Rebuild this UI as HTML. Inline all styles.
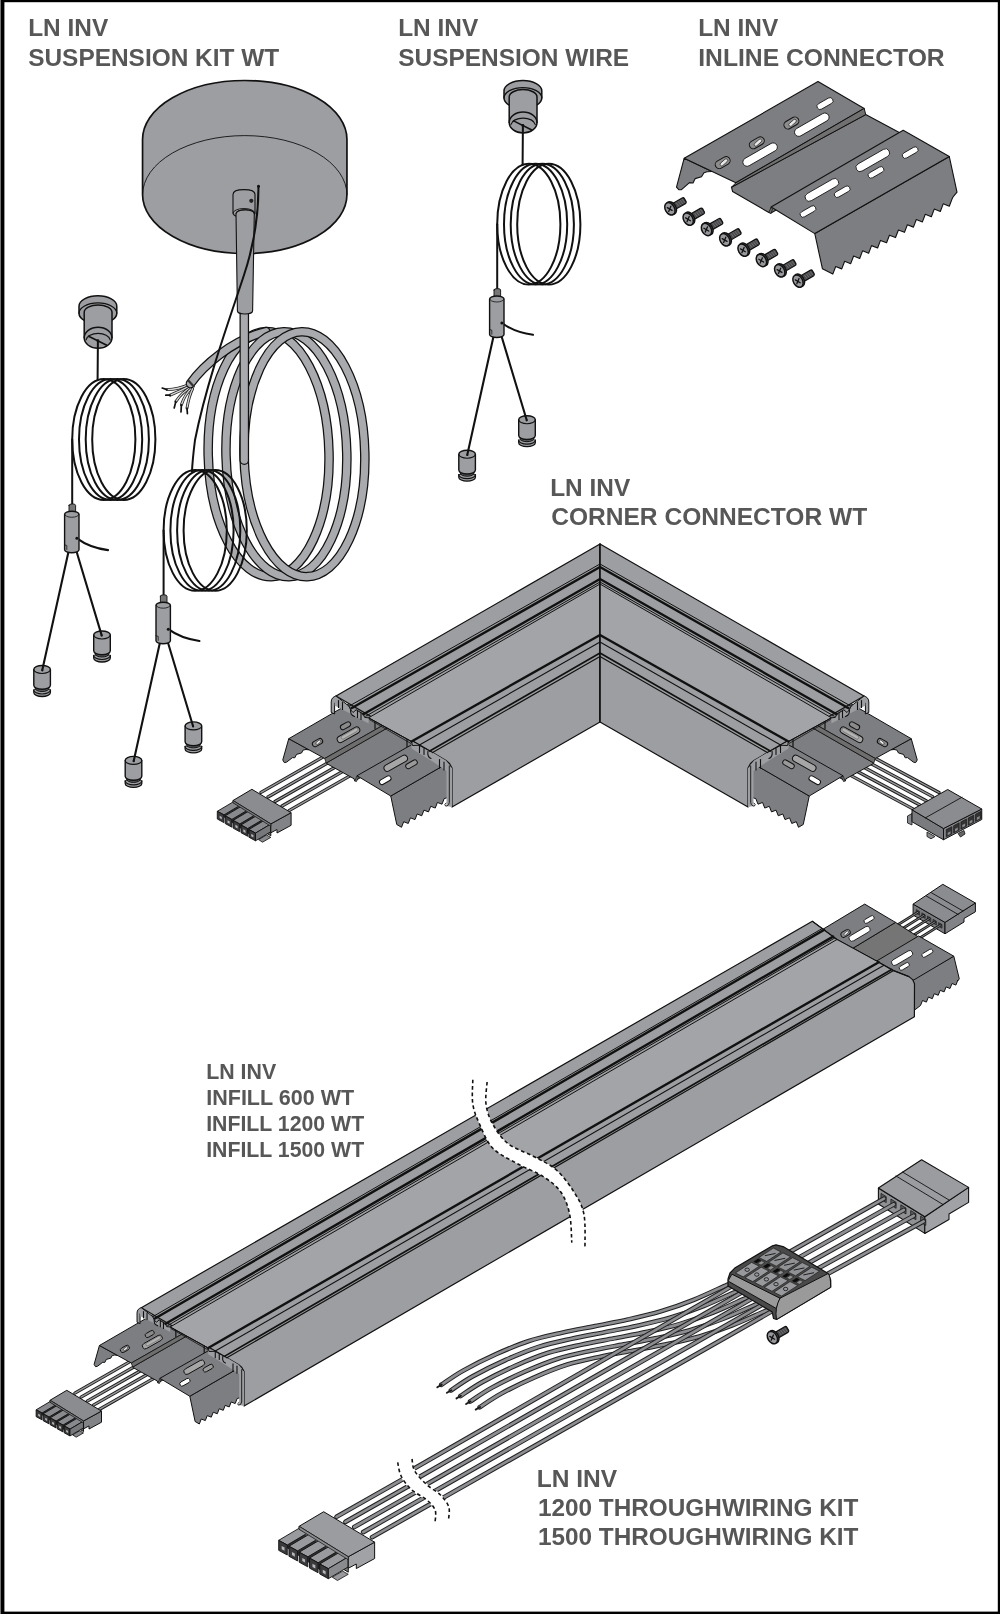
<!DOCTYPE html>
<html><head><meta charset="utf-8"><title>LN INV accessories</title>
<style>
html,body{margin:0;padding:0;background:#fff;}
body{width:1000px;height:1614px;overflow:hidden;font-family:"Liberation Sans",sans-serif;}
svg{display:block;will-change:transform;}
g.ns *{vector-effect:non-scaling-stroke;}
text{font-family:"Liberation Sans",sans-serif;font-weight:bold;fill:#575757;}
</style></head><body>
<svg width="1000" height="1614" viewBox="0 0 1000 1614">
<!-- frame -->
<rect x="0" y="0" width="1000" height="1614" fill="#fff"/>
<rect x="0" y="0" width="1000" height="2.2" fill="#000"/>
<rect x="0" y="1611.6" width="1000" height="2.4" fill="#000"/>
<rect x="0" y="0" width="1" height="1614" fill="#777"/>
<rect x="1" y="0" width="3.4" height="1614" fill="#000"/>
<rect x="997.8" y="0" width="2.2" height="1614" fill="#000"/>
<!-- canopy -->
<path d="M142.55,139.5 A102.2,59 0 0 1 346.95,139.5 L346.95,194.6 A102.2,59 0 0 1 142.55,194.6 Z" fill="#9d9ea1" stroke="#111" stroke-width="1.7" stroke-linejoin="round" stroke-linecap="round" />
<path d="M142.55,194.6 A102.2,59 0 0 1 346.95,194.6" fill="none" stroke="#111" stroke-width="0.9" stroke-linejoin="round" stroke-linecap="round" />
<g transform="rotate(-1.3 268.6 454.2)"><path d="M208.2,454.2 A60.4,122.5 0 1 1 329,454.2 A60.4,122.5 0 1 1 208.2,454.2" fill="none" stroke="#111" stroke-width="9.6" stroke-linejoin="round" stroke-linecap="round" stroke-linecap="butt"/><path d="M208.2,454.2 A60.4,122.5 0 1 1 329,454.2 A60.4,122.5 0 1 1 208.2,454.2" fill="none" stroke="#a9aaad" stroke-width="7.1" stroke-linejoin="round" stroke-linecap="round" stroke-linecap="butt"/></g>
<path d="M189.4,384.4 Q178,389.5 167,389.6" fill="none" stroke="#222" stroke-width="2.9" stroke-linejoin="round" stroke-linecap="round" />
<path d="M189.4,384.4 Q178,389.5 167,389.6" fill="none" stroke="#d6d6d8" stroke-width="1.3" stroke-linejoin="round" stroke-linecap="round" stroke-linecap="butt"/>
<line x1="167" y1="389.6" x2="162.2" y2="388" stroke="#111" stroke-width="1.7" stroke-linecap="round" />
<path d="M190.2,385.8 Q180,391 170.2,395.2" fill="none" stroke="#222" stroke-width="2.9" stroke-linejoin="round" stroke-linecap="round" />
<path d="M190.2,385.8 Q180,391 170.2,395.2" fill="none" stroke="#d6d6d8" stroke-width="1.3" stroke-linejoin="round" stroke-linecap="round" stroke-linecap="butt"/>
<line x1="170.2" y1="395.2" x2="165.8" y2="395.2" stroke="#111" stroke-width="1.7" stroke-linecap="round" />
<path d="M191,387.2 Q182,392 175.8,401.6" fill="none" stroke="#222" stroke-width="2.9" stroke-linejoin="round" stroke-linecap="round" />
<path d="M191,387.2 Q182,392 175.8,401.6" fill="none" stroke="#d6d6d8" stroke-width="1.3" stroke-linejoin="round" stroke-linecap="round" stroke-linecap="butt"/>
<line x1="175.8" y1="401.6" x2="174.2" y2="408" stroke="#111" stroke-width="1.7" stroke-linecap="round" />
<path d="M191.8,388 Q185,394 181.4,404.8" fill="none" stroke="#222" stroke-width="2.9" stroke-linejoin="round" stroke-linecap="round" />
<path d="M191.8,388 Q185,394 181.4,404.8" fill="none" stroke="#d6d6d8" stroke-width="1.3" stroke-linejoin="round" stroke-linecap="round" stroke-linecap="butt"/>
<line x1="181.4" y1="404.8" x2="181" y2="412" stroke="#111" stroke-width="1.7" stroke-linecap="round" />
<path d="M192.6,388.8 Q189,396 187,408" fill="none" stroke="#222" stroke-width="2.9" stroke-linejoin="round" stroke-linecap="round" />
<path d="M192.6,388.8 Q189,396 187,408" fill="none" stroke="#d6d6d8" stroke-width="1.3" stroke-linejoin="round" stroke-linecap="round" stroke-linecap="butt"/>
<line x1="187" y1="408" x2="187.4" y2="413.6" stroke="#111" stroke-width="1.7" stroke-linecap="round" />
<path d="M190.5,383.5 C203,366 232,340 266,331.6" fill="none" stroke="#111" stroke-width="9.6" stroke-linejoin="round" stroke-linecap="round" stroke-linecap="butt"/><path d="M190.5,383.5 C203,366 232,340 266,331.6" fill="none" stroke="#a9aaad" stroke-width="7.1" stroke-linejoin="round" stroke-linecap="round" stroke-linecap="butt"/>
<g transform="rotate(-1.3 286.4 454.2)"><path d="M226,454.2 A60.4,122.5 0 1 1 346.8,454.2 A60.4,122.5 0 1 1 226,454.2" fill="none" stroke="#111" stroke-width="9.6" stroke-linejoin="round" stroke-linecap="round" stroke-linecap="butt"/><path d="M226,454.2 A60.4,122.5 0 1 1 346.8,454.2 A60.4,122.5 0 1 1 226,454.2" fill="none" stroke="#a9aaad" stroke-width="7.1" stroke-linejoin="round" stroke-linecap="round" stroke-linecap="butt"/></g>
<g transform="rotate(-1.3 304.4 454.2)"><path d="M244,454.2 A60.4,122.5 0 1 1 364.8,454.2 A60.4,122.5 0 1 1 244,454.2" fill="none" stroke="#111" stroke-width="9.6" stroke-linejoin="round" stroke-linecap="round" stroke-linecap="butt"/><path d="M244,454.2 A60.4,122.5 0 1 1 364.8,454.2 A60.4,122.5 0 1 1 244,454.2" fill="none" stroke="#a9aaad" stroke-width="7.1" stroke-linejoin="round" stroke-linecap="round" stroke-linecap="butt"/></g>
<path d="M244.3,311 L244.3,460.2" fill="none" stroke="#111" stroke-width="9.6" stroke-linejoin="round" stroke-linecap="round" stroke-linecap="butt"/><path d="M244.3,311 L244.3,460.2" fill="none" stroke="#a9aaad" stroke-width="7.1" stroke-linejoin="round" stroke-linecap="round" stroke-linecap="butt"/>
<path d="M233,194.5 L233,213 A11,4.5 0 0 0 255,213 L255,194.5 Q255,189.6 244,189.6 Q233,189.6 233,194.5 Z" fill="#9d9ea1" stroke="#111" stroke-width="1.1" stroke-linejoin="round" stroke-linecap="round" />
<path d="M233,213 A11,4.5 0 0 1 255,213" fill="none" stroke="#111" stroke-width="0.9" stroke-linejoin="round" stroke-linecap="round" />
<path d="M236,213.5 L237.4,311 A7.6,3 0 0 0 252.6,311 L254.3,213.5 A9.1,3.8 0 0 0 236,213.5 Z" fill="#9d9ea1" stroke="#111" stroke-width="1.1" stroke-linejoin="round" stroke-linecap="round" />
<path d="M236,213.5 A9.1,3.6 0 0 1 254.3,213.5" fill="none" stroke="#111" stroke-width="0.9" stroke-linejoin="round" stroke-linecap="round" />
<circle cx="251.3" cy="200.8" r="2.1" fill="#222"/>
<circle cx="258.5" cy="186.3" r="1.5" fill="#111"/>
<path d="M258.5,186.5 C258.5,215 254,245 244,275 C232,312 207,380 195,440 C193,456 192.3,463 192,471.5" fill="none" stroke="#111" stroke-width="2.0" stroke-linejoin="round" stroke-linecap="round" />
<line x1="188.6" y1="380.8" x2="193.8" y2="386.4" stroke="#333" stroke-width="2.2" stroke-linecap="round" />
<!-- susp -->
<defs><g id="grip"><ellipse cx="528.8" cy="224.2" rx="31.6" ry="60.4" fill="none" stroke="#111" stroke-width="2.0"/>
<ellipse cx="535.6" cy="224.2" rx="31.6" ry="60.4" fill="none" stroke="#111" stroke-width="2.0"/>
<ellipse cx="542.3" cy="224.2" rx="31.6" ry="60.4" fill="none" stroke="#111" stroke-width="2.0"/>
<ellipse cx="548.8" cy="224.2" rx="31.6" ry="60.4" fill="none" stroke="#111" stroke-width="2.0"/>
<path d="M497.2,224.2 L497.2,289" fill="none" stroke="#111" stroke-width="2.0" stroke-linejoin="round" stroke-linecap="round" />
<path d="M458.8,474.7 L458.8,477.2 A8.3,4.0 0 0 0 475.4,477.2 L475.4,474.7 Z" fill="#9d9ea1" stroke="#111" stroke-width="1.3" stroke-linejoin="round" stroke-linecap="round" />
<path d="M458.8,474.7 A8.3,4.0 0 0 0 475.4,474.7" fill="#9d9ea1" stroke="#111" stroke-width="1.2" stroke-linejoin="round" stroke-linecap="round" />
<path d="M460.1,469.2 L460.1,472.8 A7.000000000000001,3.4 0 0 0 474.1,472.8 L474.1,469.2 Z" fill="#5e5f62" stroke="#111" stroke-width="1.0" stroke-linejoin="round" stroke-linecap="round" />
<path d="M458.8,454.2 L458.8,470 A8.3,4.0 0 0 0 475.4,470 L475.4,454.2 A8.3,4.0 0 0 0 458.8,454.2 Z" fill="#9d9ea1" stroke="#111" stroke-width="1.4" stroke-linejoin="round" stroke-linecap="round" />
<path d="M458.8,454.2 A8.3,4.0 0 0 0 475.4,454.2" fill="none" stroke="#111" stroke-width="1.1" stroke-linejoin="round" stroke-linecap="round" />
<path d="M518.7,440.2 L518.7,442.7 A8.3,4.0 0 0 0 535.3,442.7 L535.3,440.2 Z" fill="#9d9ea1" stroke="#111" stroke-width="1.3" stroke-linejoin="round" stroke-linecap="round" />
<path d="M518.7,440.2 A8.3,4.0 0 0 0 535.3,440.2" fill="#9d9ea1" stroke="#111" stroke-width="1.2" stroke-linejoin="round" stroke-linecap="round" />
<path d="M520,434.7 L520,438.3 A7.000000000000001,3.4 0 0 0 534,438.3 L534,434.7 Z" fill="#5e5f62" stroke="#111" stroke-width="1.0" stroke-linejoin="round" stroke-linecap="round" />
<path d="M518.7,419.7 L518.7,435.5 A8.3,4.0 0 0 0 535.3,435.5 L535.3,419.7 A8.3,4.0 0 0 0 518.7,419.7 Z" fill="#9d9ea1" stroke="#111" stroke-width="1.4" stroke-linejoin="round" stroke-linecap="round" />
<path d="M518.7,419.7 A8.3,4.0 0 0 0 535.3,419.7" fill="none" stroke="#111" stroke-width="1.1" stroke-linejoin="round" stroke-linecap="round" />
<circle cx="467.3" cy="455" r="1.1" fill="#111"/>
<circle cx="526.7" cy="420.3" r="1.1" fill="#111"/>
<line x1="493.6" y1="336" x2="467.3" y2="454.8" stroke="#111" stroke-width="2.1" stroke-linecap="round" />
<line x1="501.6" y1="336.5" x2="526.6" y2="419.8" stroke="#111" stroke-width="2.1" stroke-linecap="round" />
<path d="M502,323 C510,329 520,333 533,334.8" fill="none" stroke="#111" stroke-width="2.1" stroke-linejoin="round" stroke-linecap="round" />
<path d="M494,290 L494,298 L500.6,298 L500.6,290 A3.3,1.4 0 0 0 494,290 Z" fill="#777" stroke="#111" stroke-width="0.9" stroke-linejoin="round" stroke-linecap="round" />
<path d="M489.6,299 L489.6,334.5 A7.2,3 0 0 0 504,334.5 L504,299 A7.2,3 0 0 0 489.6,299 Z" fill="#9d9ea1" stroke="#111" stroke-width="1.4" stroke-linejoin="round" stroke-linecap="round" />
<path d="M489.6,299 A7.2,3 0 0 0 504,299" fill="none" stroke="#111" stroke-width="0.8" stroke-linejoin="round" stroke-linecap="round" />
<path d="M489.6,329.5 L491.8,330.2 L491.8,334.2" fill="none" stroke="#111" stroke-width="0.8" stroke-linejoin="round" stroke-linecap="round" />
<circle cx="501.9" cy="323" r="1.5" fill="#111"/></g><g id="ccap"><path d="M504,90.9 L504,98 A18.9,10.4 0 0 0 541.8,98 L541.8,90.9 A18.9,10.4 0 0 0 504,90.9 Z" fill="#9d9ea1" stroke="#111" stroke-width="1.5" stroke-linejoin="round" stroke-linecap="round" />
<path d="M504,98 A18.9,10.4 0 0 1 541.8,98" fill="none" stroke="#111" stroke-width="1.2" stroke-linejoin="round" stroke-linecap="round" />
<path d="M509.2,97 L509.2,122.5 A13.9,10.5 0 0 0 537,122.5 L537,97 A13.9,7.4 0 0 0 509.2,97 Z" fill="#9d9ea1" stroke="#111" stroke-width="1.5" stroke-linejoin="round" stroke-linecap="round" />
<path d="M509.2,122.5 A13.9,10.5 0 0 1 537,122.5" fill="none" stroke="#111" stroke-width="1.4" stroke-linejoin="round" stroke-linecap="round" />
<path d="M511,124.5 A12.2,7.4 0 0 1 535.2,124.5" fill="none" stroke="#111" stroke-width="1.2" stroke-linejoin="round" stroke-linecap="round" />
<line x1="513.6" y1="120.9" x2="531.8" y2="130" stroke="#111" stroke-width="1.6" stroke-linecap="round" />
<circle cx="522.9" cy="125.4" r="1.4" fill="#111"/>
<path d="M522.9,125.5 L522.6,165" fill="none" stroke="#111" stroke-width="2.0" stroke-linejoin="round" stroke-linecap="round" /></g></defs>
<use href="#grip"/><use href="#ccap"/>
<use href="#grip" transform="translate(-425,215.3)"/><use href="#ccap" transform="translate(-425,215.3)"/>
<use href="#grip" transform="translate(-333.6,306.2)"/>
<!-- inline -->
<polygon points="684.2,158.2 676.5,187.2 679,189.8 681.5,189.6 689.5,182.6 693,183 695.2,178.6 701.5,176.8 704,172.8 707,171.8 712,171.5" fill="#7d7e81" stroke="#111" stroke-width="1.1" stroke-linejoin="round" />
<polygon points="814.8,233.6 949.3,156.6 957,192.2 953,197 952.18,198.64 949.28,206.24 943.22,203.86 940.32,211.46 934.26,209.08 931.36,216.68 925.3,214.3 922.4,221.9 916.34,219.52 913.44,227.12 907.38,224.74 904.48,232.34 898.42,229.96 895.52,237.56 889.46,235.18 886.56,242.78 880.5,240.4 877.6,248 871.54,245.62 868.64,253.22 862.58,250.84 859.68,258.44 853.62,256.06 850.72,263.66 844.66,261.28 841.76,268.88 835.7,266.5 832.8,274.1 822.4,268.7" fill="#7d7e81" stroke="#111" stroke-width="1.1" stroke-linejoin="round" />
<polygon points="731.5,187.2 865.7,114.6 903,134.5 771,213 768.9,212.5 732.6,191.6" fill="#7d7e81" stroke="#111" stroke-width="1.1" stroke-linejoin="round" />
<polygon points="684.2,158.2 818,81.6 864.2,108.4 735.9,182.8" fill="#7d7e81" stroke="#111" stroke-width="1.1" stroke-linejoin="round" />
<polygon points="735.9,182.8 864.2,108.4 865.7,114.6 731.5,187.2" fill="#707070" stroke="#111" stroke-width="1.0" stroke-linejoin="round" />
<polygon points="771.1,207 903.2,130.2 949.3,156.6 814.8,233.6" fill="#7d7e81" stroke="#111" stroke-width="1.1" stroke-linejoin="round" />
<polygon points="771.1,207 768.9,212.5 771,213.5 772.5,209" fill="#707070" stroke="#111" stroke-width="0.8" stroke-linejoin="round" />
<rect x="740.85" y="150.4" width="38.5" height="8.4" rx="4.2" ry="4.2" transform="rotate(-29.8 760.1 154.6)" fill="#fff" stroke="#111" stroke-width="0.8"/>
<rect x="792.55" y="120.5" width="38.5" height="8.4" rx="4.2" ry="4.2" transform="rotate(-29.8 811.8 124.7)" fill="#fff" stroke="#111" stroke-width="0.8"/>
<rect x="816.2" y="100.5" width="17.6" height="6.2" rx="3.1" ry="3.1" transform="rotate(-29.8 825 103.6)" fill="#fff" stroke="#111" stroke-width="0.8"/>
<rect x="714.7" y="158.6" width="16" height="8" rx="4" ry="4" transform="rotate(-29.8 722.7 162.6)" fill="#8c8c8c" stroke="#111" stroke-width="1.0"/>
<rect x="719.4" y="160.8" width="9" height="3.2" rx="1.6" ry="1.6" transform="rotate(-41.8 723.9 162.4)" fill="#e8e8e8" stroke="#111" stroke-width="0.6"/>
<rect x="748.8" y="138.8" width="16" height="8" rx="4" ry="4" transform="rotate(-29.8 756.8 142.8)" fill="#8c8c8c" stroke="#111" stroke-width="1.0"/>
<rect x="753.5" y="141" width="9" height="3.2" rx="1.6" ry="1.6" transform="rotate(-41.8 758 142.6)" fill="#e8e8e8" stroke="#111" stroke-width="0.6"/>
<rect x="783.4" y="119" width="16" height="8" rx="4" ry="4" transform="rotate(-29.8 791.4 123)" fill="#8c8c8c" stroke="#111" stroke-width="1.0"/>
<rect x="788.1" y="121.2" width="9" height="3.2" rx="1.6" ry="1.6" transform="rotate(-41.8 792.6 122.8)" fill="#e8e8e8" stroke="#111" stroke-width="0.6"/>
<rect x="803.15" y="185.8" width="37.5" height="8.2" rx="4.1" ry="4.1" transform="rotate(-29.8 821.9 189.9)" fill="#fff" stroke="#111" stroke-width="0.8"/>
<rect x="854.05" y="156.1" width="37.5" height="8.2" rx="4.1" ry="4.1" transform="rotate(-29.8 872.8 160.2)" fill="#fff" stroke="#111" stroke-width="0.8"/>
<rect x="799.4" y="208.6" width="17.2" height="5.8" rx="2.9" ry="2.9" transform="rotate(-29.8 808 211.5)" fill="#fff" stroke="#111" stroke-width="0.8"/>
<rect x="833.6" y="188.8" width="17.2" height="5.8" rx="2.9" ry="2.9" transform="rotate(-29.8 842.2 191.7)" fill="#fff" stroke="#111" stroke-width="0.8"/>
<rect x="867.4" y="169.5" width="17.2" height="5.8" rx="2.9" ry="2.9" transform="rotate(-29.8 876 172.4)" fill="#fff" stroke="#111" stroke-width="0.8"/>
<rect x="901.6" y="149.7" width="17.2" height="5.8" rx="2.9" ry="2.9" transform="rotate(-29.8 910.2 152.6)" fill="#fff" stroke="#111" stroke-width="0.8"/>
<g transform="translate(669.9 208.8) rotate(-30) scale(1.0)">
<rect x="2" y="-3.2" width="15.6" height="6.4" rx="1.6" fill="#4a4a4c" stroke="#111" stroke-width="1.3"/>
<line x1="6.2" y1="-2.6" x2="6.8" y2="2.6" stroke="#77787b" stroke-width="0.7"/>
<line x1="8.5" y1="-2.6" x2="9.1" y2="2.6" stroke="#77787b" stroke-width="0.7"/>
<line x1="10.8" y1="-2.6" x2="11.4" y2="2.6" stroke="#77787b" stroke-width="0.7"/>
<line x1="13.1" y1="-2.6" x2="13.7" y2="2.6" stroke="#77787b" stroke-width="0.7"/>
<line x1="15.4" y1="-2.6" x2="16" y2="2.6" stroke="#77787b" stroke-width="0.7"/>
<ellipse cx="1.6" cy="0" rx="4.6" ry="6.7" fill="#7a7b7e" stroke="#111" stroke-width="1.5"/>
<ellipse cx="0" cy="0" rx="4.6" ry="6.6" fill="#98999c" stroke="#111" stroke-width="1.5"/>
</g>
<line x1="667.3" y1="207.6" x2="672.1" y2="210.4" stroke="#111" stroke-width="1.3" stroke-linecap="round" />
<line x1="668.7" y1="211.4" x2="670.9" y2="206.2" stroke="#111" stroke-width="1.3" stroke-linecap="round" />
<g transform="translate(688.2 219.13) rotate(-30) scale(1.0)">
<rect x="2" y="-3.2" width="15.6" height="6.4" rx="1.6" fill="#4a4a4c" stroke="#111" stroke-width="1.3"/>
<line x1="6.2" y1="-2.6" x2="6.8" y2="2.6" stroke="#77787b" stroke-width="0.7"/>
<line x1="8.5" y1="-2.6" x2="9.1" y2="2.6" stroke="#77787b" stroke-width="0.7"/>
<line x1="10.8" y1="-2.6" x2="11.4" y2="2.6" stroke="#77787b" stroke-width="0.7"/>
<line x1="13.1" y1="-2.6" x2="13.7" y2="2.6" stroke="#77787b" stroke-width="0.7"/>
<line x1="15.4" y1="-2.6" x2="16" y2="2.6" stroke="#77787b" stroke-width="0.7"/>
<ellipse cx="1.6" cy="0" rx="4.6" ry="6.7" fill="#7a7b7e" stroke="#111" stroke-width="1.5"/>
<ellipse cx="0" cy="0" rx="4.6" ry="6.6" fill="#98999c" stroke="#111" stroke-width="1.5"/>
</g>
<line x1="685.6" y1="217.93" x2="690.4" y2="220.73" stroke="#111" stroke-width="1.3" stroke-linecap="round" />
<line x1="687" y1="221.73" x2="689.2" y2="216.53" stroke="#111" stroke-width="1.3" stroke-linecap="round" />
<g transform="translate(706.5 229.46) rotate(-30) scale(1.0)">
<rect x="2" y="-3.2" width="15.6" height="6.4" rx="1.6" fill="#4a4a4c" stroke="#111" stroke-width="1.3"/>
<line x1="6.2" y1="-2.6" x2="6.8" y2="2.6" stroke="#77787b" stroke-width="0.7"/>
<line x1="8.5" y1="-2.6" x2="9.1" y2="2.6" stroke="#77787b" stroke-width="0.7"/>
<line x1="10.8" y1="-2.6" x2="11.4" y2="2.6" stroke="#77787b" stroke-width="0.7"/>
<line x1="13.1" y1="-2.6" x2="13.7" y2="2.6" stroke="#77787b" stroke-width="0.7"/>
<line x1="15.4" y1="-2.6" x2="16" y2="2.6" stroke="#77787b" stroke-width="0.7"/>
<ellipse cx="1.6" cy="0" rx="4.6" ry="6.7" fill="#7a7b7e" stroke="#111" stroke-width="1.5"/>
<ellipse cx="0" cy="0" rx="4.6" ry="6.6" fill="#98999c" stroke="#111" stroke-width="1.5"/>
</g>
<line x1="703.9" y1="228.26" x2="708.7" y2="231.06" stroke="#111" stroke-width="1.3" stroke-linecap="round" />
<line x1="705.3" y1="232.06" x2="707.5" y2="226.86" stroke="#111" stroke-width="1.3" stroke-linecap="round" />
<g transform="translate(724.8 239.79) rotate(-30) scale(1.0)">
<rect x="2" y="-3.2" width="15.6" height="6.4" rx="1.6" fill="#4a4a4c" stroke="#111" stroke-width="1.3"/>
<line x1="6.2" y1="-2.6" x2="6.8" y2="2.6" stroke="#77787b" stroke-width="0.7"/>
<line x1="8.5" y1="-2.6" x2="9.1" y2="2.6" stroke="#77787b" stroke-width="0.7"/>
<line x1="10.8" y1="-2.6" x2="11.4" y2="2.6" stroke="#77787b" stroke-width="0.7"/>
<line x1="13.1" y1="-2.6" x2="13.7" y2="2.6" stroke="#77787b" stroke-width="0.7"/>
<line x1="15.4" y1="-2.6" x2="16" y2="2.6" stroke="#77787b" stroke-width="0.7"/>
<ellipse cx="1.6" cy="0" rx="4.6" ry="6.7" fill="#7a7b7e" stroke="#111" stroke-width="1.5"/>
<ellipse cx="0" cy="0" rx="4.6" ry="6.6" fill="#98999c" stroke="#111" stroke-width="1.5"/>
</g>
<line x1="722.2" y1="238.59" x2="727" y2="241.39" stroke="#111" stroke-width="1.3" stroke-linecap="round" />
<line x1="723.6" y1="242.39" x2="725.8" y2="237.19" stroke="#111" stroke-width="1.3" stroke-linecap="round" />
<g transform="translate(743.1 250.12) rotate(-30) scale(1.0)">
<rect x="2" y="-3.2" width="15.6" height="6.4" rx="1.6" fill="#4a4a4c" stroke="#111" stroke-width="1.3"/>
<line x1="6.2" y1="-2.6" x2="6.8" y2="2.6" stroke="#77787b" stroke-width="0.7"/>
<line x1="8.5" y1="-2.6" x2="9.1" y2="2.6" stroke="#77787b" stroke-width="0.7"/>
<line x1="10.8" y1="-2.6" x2="11.4" y2="2.6" stroke="#77787b" stroke-width="0.7"/>
<line x1="13.1" y1="-2.6" x2="13.7" y2="2.6" stroke="#77787b" stroke-width="0.7"/>
<line x1="15.4" y1="-2.6" x2="16" y2="2.6" stroke="#77787b" stroke-width="0.7"/>
<ellipse cx="1.6" cy="0" rx="4.6" ry="6.7" fill="#7a7b7e" stroke="#111" stroke-width="1.5"/>
<ellipse cx="0" cy="0" rx="4.6" ry="6.6" fill="#98999c" stroke="#111" stroke-width="1.5"/>
</g>
<line x1="740.5" y1="248.92" x2="745.3" y2="251.72" stroke="#111" stroke-width="1.3" stroke-linecap="round" />
<line x1="741.9" y1="252.72" x2="744.1" y2="247.52" stroke="#111" stroke-width="1.3" stroke-linecap="round" />
<g transform="translate(761.4 260.45) rotate(-30) scale(1.0)">
<rect x="2" y="-3.2" width="15.6" height="6.4" rx="1.6" fill="#4a4a4c" stroke="#111" stroke-width="1.3"/>
<line x1="6.2" y1="-2.6" x2="6.8" y2="2.6" stroke="#77787b" stroke-width="0.7"/>
<line x1="8.5" y1="-2.6" x2="9.1" y2="2.6" stroke="#77787b" stroke-width="0.7"/>
<line x1="10.8" y1="-2.6" x2="11.4" y2="2.6" stroke="#77787b" stroke-width="0.7"/>
<line x1="13.1" y1="-2.6" x2="13.7" y2="2.6" stroke="#77787b" stroke-width="0.7"/>
<line x1="15.4" y1="-2.6" x2="16" y2="2.6" stroke="#77787b" stroke-width="0.7"/>
<ellipse cx="1.6" cy="0" rx="4.6" ry="6.7" fill="#7a7b7e" stroke="#111" stroke-width="1.5"/>
<ellipse cx="0" cy="0" rx="4.6" ry="6.6" fill="#98999c" stroke="#111" stroke-width="1.5"/>
</g>
<line x1="758.8" y1="259.25" x2="763.6" y2="262.05" stroke="#111" stroke-width="1.3" stroke-linecap="round" />
<line x1="760.2" y1="263.05" x2="762.4" y2="257.85" stroke="#111" stroke-width="1.3" stroke-linecap="round" />
<g transform="translate(779.7 270.78) rotate(-30) scale(1.0)">
<rect x="2" y="-3.2" width="15.6" height="6.4" rx="1.6" fill="#4a4a4c" stroke="#111" stroke-width="1.3"/>
<line x1="6.2" y1="-2.6" x2="6.8" y2="2.6" stroke="#77787b" stroke-width="0.7"/>
<line x1="8.5" y1="-2.6" x2="9.1" y2="2.6" stroke="#77787b" stroke-width="0.7"/>
<line x1="10.8" y1="-2.6" x2="11.4" y2="2.6" stroke="#77787b" stroke-width="0.7"/>
<line x1="13.1" y1="-2.6" x2="13.7" y2="2.6" stroke="#77787b" stroke-width="0.7"/>
<line x1="15.4" y1="-2.6" x2="16" y2="2.6" stroke="#77787b" stroke-width="0.7"/>
<ellipse cx="1.6" cy="0" rx="4.6" ry="6.7" fill="#7a7b7e" stroke="#111" stroke-width="1.5"/>
<ellipse cx="0" cy="0" rx="4.6" ry="6.6" fill="#98999c" stroke="#111" stroke-width="1.5"/>
</g>
<line x1="777.1" y1="269.58" x2="781.9" y2="272.38" stroke="#111" stroke-width="1.3" stroke-linecap="round" />
<line x1="778.5" y1="273.38" x2="780.7" y2="268.18" stroke="#111" stroke-width="1.3" stroke-linecap="round" />
<g transform="translate(798 281.11) rotate(-30) scale(1.0)">
<rect x="2" y="-3.2" width="15.6" height="6.4" rx="1.6" fill="#4a4a4c" stroke="#111" stroke-width="1.3"/>
<line x1="6.2" y1="-2.6" x2="6.8" y2="2.6" stroke="#77787b" stroke-width="0.7"/>
<line x1="8.5" y1="-2.6" x2="9.1" y2="2.6" stroke="#77787b" stroke-width="0.7"/>
<line x1="10.8" y1="-2.6" x2="11.4" y2="2.6" stroke="#77787b" stroke-width="0.7"/>
<line x1="13.1" y1="-2.6" x2="13.7" y2="2.6" stroke="#77787b" stroke-width="0.7"/>
<line x1="15.4" y1="-2.6" x2="16" y2="2.6" stroke="#77787b" stroke-width="0.7"/>
<ellipse cx="1.6" cy="0" rx="4.6" ry="6.7" fill="#7a7b7e" stroke="#111" stroke-width="1.5"/>
<ellipse cx="0" cy="0" rx="4.6" ry="6.6" fill="#98999c" stroke="#111" stroke-width="1.5"/>
</g>
<line x1="795.4" y1="279.91" x2="800.2" y2="282.71" stroke="#111" stroke-width="1.3" stroke-linecap="round" />
<line x1="796.8" y1="283.71" x2="799" y2="278.51" stroke="#111" stroke-width="1.3" stroke-linecap="round" />
<!-- corner -->
<line x1="261" y1="792.4" x2="336" y2="749.65" stroke="#1c1c1c" stroke-width="3.3" stroke-linecap="round" stroke-linecap="butt"/>
<line x1="261" y1="792.4" x2="336" y2="749.65" stroke="#97989b" stroke-width="1.4" stroke-linecap="round" stroke-linecap="butt"/>
<line x1="268" y1="796.95" x2="343" y2="754.2" stroke="#1c1c1c" stroke-width="3.3" stroke-linecap="round" stroke-linecap="butt"/>
<line x1="268" y1="796.95" x2="343" y2="754.2" stroke="#97989b" stroke-width="1.4" stroke-linecap="round" stroke-linecap="butt"/>
<line x1="275" y1="801.5" x2="350" y2="758.75" stroke="#1c1c1c" stroke-width="3.3" stroke-linecap="round" stroke-linecap="butt"/>
<line x1="275" y1="801.5" x2="350" y2="758.75" stroke="#97989b" stroke-width="1.4" stroke-linecap="round" stroke-linecap="butt"/>
<line x1="282" y1="806.05" x2="357" y2="763.3" stroke="#1c1c1c" stroke-width="3.3" stroke-linecap="round" stroke-linecap="butt"/>
<line x1="282" y1="806.05" x2="357" y2="763.3" stroke="#97989b" stroke-width="1.4" stroke-linecap="round" stroke-linecap="butt"/>
<line x1="289" y1="810.6" x2="364" y2="767.85" stroke="#1c1c1c" stroke-width="3.3" stroke-linecap="round" stroke-linecap="butt"/>
<line x1="289" y1="810.6" x2="364" y2="767.85" stroke="#97989b" stroke-width="1.4" stroke-linecap="round" stroke-linecap="butt"/>
<polygon points="233,800.5 270.8,823.9 270.8,835.8 233,812.4" fill="#6c6d70" stroke="#111" stroke-width="1.0" stroke-linejoin="round" />
<polygon points="258.5,839.6 266.5,835 270.8,837.4 262.5,842.2" fill="#88898c" stroke="#111" stroke-width="0.8" stroke-linejoin="round" />
<polygon points="217.8,813.3 232.8,804.3 270.7,826.5 255.5,838.5" fill="#2e2e30" stroke="none" stroke-width="0" stroke-linejoin="round" />
<polygon points="217.3,811.3 232.5,802.3 239.1,805.9 223.9,814.9" fill="#88898c" stroke="#111" stroke-width="0.9" stroke-linejoin="round" />
<polygon points="217.3,811.3 223.9,814.9 223.9,822.6 217.3,819" fill="#3a3a3c" stroke="#111" stroke-width="0.9" stroke-linejoin="round" />
<polygon points="219.6,815.7 221.8,816.9 221.8,819.3 219.6,818.1" fill="#b5b6b9" stroke="none" stroke-width="0" stroke-linejoin="round" />
<polygon points="225.2,815.85 240.4,806.85 247,810.45 231.8,819.45" fill="#88898c" stroke="#111" stroke-width="0.9" stroke-linejoin="round" />
<polygon points="225.2,815.85 231.8,819.45 231.8,827.15 225.2,823.55" fill="#3a3a3c" stroke="#111" stroke-width="0.9" stroke-linejoin="round" />
<polygon points="227.5,820.25 229.7,821.45 229.7,823.85 227.5,822.65" fill="#b5b6b9" stroke="none" stroke-width="0" stroke-linejoin="round" />
<polygon points="233.1,820.4 248.3,811.4 254.9,815 239.7,824" fill="#88898c" stroke="#111" stroke-width="0.9" stroke-linejoin="round" />
<polygon points="233.1,820.4 239.7,824 239.7,831.7 233.1,828.1" fill="#3a3a3c" stroke="#111" stroke-width="0.9" stroke-linejoin="round" />
<polygon points="235.4,824.8 237.6,826 237.6,828.4 235.4,827.2" fill="#b5b6b9" stroke="none" stroke-width="0" stroke-linejoin="round" />
<polygon points="241,824.95 256.2,815.95 262.8,819.55 247.6,828.55" fill="#88898c" stroke="#111" stroke-width="0.9" stroke-linejoin="round" />
<polygon points="241,824.95 247.6,828.55 247.6,836.25 241,832.65" fill="#3a3a3c" stroke="#111" stroke-width="0.9" stroke-linejoin="round" />
<polygon points="243.3,829.35 245.5,830.55 245.5,832.95 243.3,831.75" fill="#b5b6b9" stroke="none" stroke-width="0" stroke-linejoin="round" />
<polygon points="248.9,829.5 264.1,820.5 270.7,824.1 255.5,833.1" fill="#88898c" stroke="#111" stroke-width="0.9" stroke-linejoin="round" />
<polygon points="248.9,829.5 255.5,833.1 255.5,840.8 248.9,837.2" fill="#3a3a3c" stroke="#111" stroke-width="0.9" stroke-linejoin="round" />
<polygon points="251.2,833.9 253.4,835.1 253.4,837.5 251.2,836.3" fill="#b5b6b9" stroke="none" stroke-width="0" stroke-linejoin="round" />
<polygon points="255.5,833.1 270.7,824.1 270.7,831.8 255.5,840.8" fill="#77787b" stroke="#111" stroke-width="0.9" stroke-linejoin="round" />
<polygon points="270.8,823.9 291.1,812.7 291.1,825.3 277,833 277,829.5 270.8,832.8" fill="#828386" stroke="#111" stroke-width="1.0" stroke-linejoin="round" />
<polygon points="233,800.5 251.9,789.3 291.1,812.7 270.8,823.9" fill="#8b8c8f" stroke="#111" stroke-width="1.0" stroke-linejoin="round" />
<polygon points="233,800.5 270.8,823.9 270.8,826.2 233,802.8" fill="#7a7b7e" stroke="#111" stroke-width="0.7" stroke-linejoin="round" />
<line x1="939" y1="792.5" x2="864" y2="752.3" stroke="#1c1c1c" stroke-width="3.3" stroke-linecap="round" stroke-linecap="butt"/>
<line x1="939" y1="792.5" x2="864" y2="752.3" stroke="#97989b" stroke-width="1.4" stroke-linecap="round" stroke-linecap="butt"/>
<line x1="932.6" y1="796.65" x2="857.6" y2="756.45" stroke="#1c1c1c" stroke-width="3.3" stroke-linecap="round" stroke-linecap="butt"/>
<line x1="932.6" y1="796.65" x2="857.6" y2="756.45" stroke="#97989b" stroke-width="1.4" stroke-linecap="round" stroke-linecap="butt"/>
<line x1="926.2" y1="800.8" x2="851.2" y2="760.6" stroke="#1c1c1c" stroke-width="3.3" stroke-linecap="round" stroke-linecap="butt"/>
<line x1="926.2" y1="800.8" x2="851.2" y2="760.6" stroke="#97989b" stroke-width="1.4" stroke-linecap="round" stroke-linecap="butt"/>
<line x1="919.8" y1="804.95" x2="844.8" y2="764.75" stroke="#1c1c1c" stroke-width="3.3" stroke-linecap="round" stroke-linecap="butt"/>
<line x1="919.8" y1="804.95" x2="844.8" y2="764.75" stroke="#97989b" stroke-width="1.4" stroke-linecap="round" stroke-linecap="butt"/>
<line x1="913.4" y1="809.1" x2="838.4" y2="768.9" stroke="#1c1c1c" stroke-width="3.3" stroke-linecap="round" stroke-linecap="butt"/>
<line x1="913.4" y1="809.1" x2="838.4" y2="768.9" stroke="#97989b" stroke-width="1.4" stroke-linecap="round" stroke-linecap="butt"/>
<polygon points="907.5,816 912,813.5 912,825 907.5,823" fill="#88898c" stroke="#111" stroke-width="0.8" stroke-linejoin="round" />
<polygon points="927,832 935,836.5 931,838.8 927,836.5" fill="#88898c" stroke="#111" stroke-width="0.8" stroke-linejoin="round" />
<polygon points="958,833.5 964,830.5 965,834 960.5,837" fill="#666" stroke="#111" stroke-width="0.8" stroke-linejoin="round" />
<polygon points="912,809.75 943.5,828.5 943.5,839.75 912,821.75" fill="#7a7b7e" stroke="#111" stroke-width="1.0" stroke-linejoin="round" />
<polygon points="943.5,828.5 981.75,809 981.75,819.5 943.5,839.75" fill="#828386" stroke="#111" stroke-width="1.0" stroke-linejoin="round" />
<polygon points="912,809.75 947.7,789.5 981.75,809 943.5,828.5" fill="#8b8c8f" stroke="#111" stroke-width="1.0" stroke-linejoin="round" />
<line x1="925.5" y1="817.8" x2="962" y2="797.2" stroke="#111" stroke-width="0.9" stroke-linecap="round" />
<polygon points="946.3,829.6 951.9,826.65 951.9,833.9 946.3,836.85" fill="#333" stroke="#111" stroke-width="0.6" stroke-linejoin="round" />
<polygon points="947.7,832.8 950.5,831.3 950.5,833.8 947.7,835.3" fill="#88898c" stroke="none" stroke-width="0" stroke-linejoin="round" />
<polygon points="953.6,825.75 959.2,822.8 959.2,830.05 953.6,833" fill="#333" stroke="#111" stroke-width="0.6" stroke-linejoin="round" />
<polygon points="955,828.95 957.8,827.45 957.8,829.95 955,831.45" fill="#88898c" stroke="none" stroke-width="0" stroke-linejoin="round" />
<polygon points="960.9,821.9 966.5,818.95 966.5,826.2 960.9,829.15" fill="#333" stroke="#111" stroke-width="0.6" stroke-linejoin="round" />
<polygon points="962.3,825.1 965.1,823.6 965.1,826.1 962.3,827.6" fill="#88898c" stroke="none" stroke-width="0" stroke-linejoin="round" />
<polygon points="968.2,818.05 973.8,815.1 973.8,822.35 968.2,825.3" fill="#333" stroke="#111" stroke-width="0.6" stroke-linejoin="round" />
<polygon points="969.6,821.25 972.4,819.75 972.4,822.25 969.6,823.75" fill="#88898c" stroke="none" stroke-width="0" stroke-linejoin="round" />
<polygon points="975.5,814.2 981.1,811.25 981.1,818.5 975.5,821.45" fill="#333" stroke="#111" stroke-width="0.6" stroke-linejoin="round" />
<polygon points="976.9,817.4 979.7,815.9 979.7,818.4 976.9,819.9" fill="#88898c" stroke="none" stroke-width="0" stroke-linejoin="round" />
<g id="cornerhalf"><polygon points="288.75,738.7 282.75,760 284.3,762.6 286.5,762.2 292.5,757.6 294.8,757.8 296.5,754.4 301.5,753 303.2,750 306,749.5 309,749.8" fill="#7d7e81" stroke="#111" stroke-width="1.0" stroke-linejoin="round" />
<polygon points="390.75,796 466,752.5 466,792 444.2,798.6 442,804.2 437.45,802.45 435.25,808.05 430.7,806.3 428.5,811.9 423.95,810.15 421.75,815.75 417.2,814 415,819.6 410.45,817.85 408.25,823.45 403.7,821.7 401.5,827.3 396.75,824.5" fill="#7d7e81" stroke="#111" stroke-width="1.0" stroke-linejoin="round" />
<polygon points="326.25,763 395,723.5 425,739.5 354.75,781 354,778.75 327,763.75" fill="#7d7e81" stroke="#111" stroke-width="1.0" stroke-linejoin="round" />
<polygon points="288.75,738.7 352,702 394,719 324.75,758.5" fill="#7d7e81" stroke="#111" stroke-width="1.0" stroke-linejoin="round" />
<polygon points="324.75,758.5 394,719 395,723.5 326.25,763" fill="#6e6e6e" stroke="#111" stroke-width="0.8" stroke-linejoin="round" />
<polygon points="357,775.75 426,736.5 466,752.5 390.75,796" fill="#7d7e81" stroke="#111" stroke-width="1.0" stroke-linejoin="round" />
<polygon points="357,775.75 354.75,781 356.5,781.6 358.3,777.5" fill="#6e6e6e" stroke="#111" stroke-width="0.7" stroke-linejoin="round" />
<rect x="336" y="731.55" width="25" height="6.4" rx="3.2" ry="3.2" transform="rotate(-29.5 348.5 734.75)" fill="#a6a6a6" stroke="#111" stroke-width="1.0"/>
<rect x="340.1" y="731.9" width="19" height="3.4" rx="1.7" ry="1.7" transform="rotate(-29.5 349.6 733.6)" fill="#b4b4b4" stroke="#555" stroke-width="0.5"/>
<rect x="340" y="723.25" width="11" height="5" rx="2.5" ry="2.5" transform="rotate(-29.5 345.5 725.75)" fill="#8a8a8a" stroke="#111" stroke-width="1.0"/>
<rect x="312" y="739.9" width="11" height="5.4" rx="2.7" ry="2.7" transform="rotate(-29.5 317.5 742.6)" fill="#8a8a8a" stroke="#111" stroke-width="1.0"/>
<rect x="315.55" y="741.1" width="5.5" height="2.4" rx="1.2" ry="1.2" transform="rotate(-39.5 318.3 742.3)" fill="#e6e6e6" stroke="#111" stroke-width="0.5"/>
<rect x="382.75" y="759.95" width="26" height="6.6" rx="3.3" ry="3.3" transform="rotate(-29.5 395.75 763.25)" fill="#a6a6a6" stroke="#111" stroke-width="1.0"/>
<rect x="405.25" y="761.8" width="12.5" height="5" rx="2.5" ry="2.5" transform="rotate(-29.5 411.5 764.3)" fill="#9a9a9a" stroke="#111" stroke-width="1.0"/>
<rect x="379" y="777.7" width="12.5" height="5" rx="2.5" ry="2.5" transform="rotate(-29.5 385.25 780.2)" fill="#fff" stroke="#111" stroke-width="1.0"/>
<polygon points="336,696 600,544 600,722 452,807 452,768 449.5,763.5 446,760.5 432.6,752.6" fill="#9d9ea1" stroke="#111" stroke-width="1.2" stroke-linejoin="round" />
<path d="M336,696 Q331.2,697.2 331.2,702 L331.2,712.4 L334.6,714 L334.6,703" fill="#9d9ea1" stroke="#111" stroke-width="1.0" stroke-linejoin="round" stroke-linecap="round" />
<polygon points="336,696 349,706.2 368.6,717.8 368.6,723.5 352,714.5 334.6,705.5 334.6,699" fill="#9d9ea1" stroke="none" stroke-width="0" stroke-linejoin="round" />
<polygon points="411.5,741.5 432.6,752.6 446,760.5 449.5,765 449.5,773 432.6,761.5 411.5,748.5" fill="#9d9ea1" stroke="none" stroke-width="0" stroke-linejoin="round" />
<polygon points="446.5,764 452,768 452,807 446.5,806" fill="#9d9ea1" stroke="none" stroke-width="0" stroke-linejoin="round" />
<polygon points="368.6,717.8 600,584 600,635 411.5,741.5" fill="#a3a4a7" stroke="#111" stroke-width="1.0" stroke-linejoin="round" />
<line x1="369.5" y1="719.6" x2="410.8" y2="743.4" stroke="#111" stroke-width="0.8" stroke-linecap="round" />
<line x1="349" y1="706.2" x2="600" y2="564" stroke="#111" stroke-width="1.0" stroke-linecap="round" />
<line x1="351.4" y1="708.2" x2="600" y2="567" stroke="#111" stroke-width="2.4" stroke-linecap="round" />
<line x1="363.4" y1="714.2" x2="600" y2="579" stroke="#111" stroke-width="2.4" stroke-linecap="round" />
<line x1="365.8" y1="716.2" x2="600" y2="582" stroke="#111" stroke-width="1.0" stroke-linecap="round" />
<line x1="411.5" y1="741.5" x2="600" y2="635" stroke="#111" stroke-width="2.4" stroke-linecap="round" />
<line x1="419" y1="745.25" x2="600" y2="642" stroke="#111" stroke-width="1.1" stroke-linecap="round" />
<line x1="429.8" y1="751" x2="600" y2="653" stroke="#111" stroke-width="1.7" stroke-linecap="round" />
<line x1="432.6" y1="752.6" x2="600" y2="656.5" stroke="#111" stroke-width="1.2" stroke-linecap="round" />
<polyline points="336,696 349,706.2 350.6,709.8 353,712.5 356.2,709.8 363.4,714.2 364.6,717.4 368.6,717.8 411.5,741.5 412.5,745.5 419,745.25 429.8,751 432.6,752.6" fill="none" stroke="#111" stroke-width="1.0" stroke-linejoin="round" stroke-linecap="round" />
<polyline points="338.5,700.5 338.5,707.5" fill="none" stroke="#111" stroke-width="1.1" stroke-linejoin="round" stroke-linecap="round" />
<polyline points="342.5,702.5 342.5,709.5" fill="none" stroke="#111" stroke-width="1.1" stroke-linejoin="round" stroke-linecap="round" />
<path d="M350.6,709.8 Q350,715 354.5,716.5" fill="none" stroke="#111" stroke-width="1.1" stroke-linejoin="round" stroke-linecap="round" />
<polyline points="357.5,711 357.5,717.5" fill="none" stroke="#111" stroke-width="1.1" stroke-linejoin="round" stroke-linecap="round" />
<polyline points="361,713 361,719.5" fill="none" stroke="#111" stroke-width="1.1" stroke-linejoin="round" stroke-linecap="round" />
<polyline points="375,721.5 375,728.5" fill="none" stroke="#111" stroke-width="1.2" stroke-linejoin="round" stroke-linecap="round" />
<polyline points="407,739.5 407,746.5" fill="none" stroke="#111" stroke-width="1.2" stroke-linejoin="round" stroke-linecap="round" />
<path d="M419.5,746 L419.5,752.5 M424,748.5 L424,754.5 M428,751 Q427,757 431,758.5" fill="none" stroke="#111" stroke-width="1.1" stroke-linejoin="round" stroke-linecap="round" />
<polyline points="439.5,759.5 439.5,768" fill="none" stroke="#111" stroke-width="1.1" stroke-linejoin="round" stroke-linecap="round" />
<polyline points="444,762 444,770" fill="none" stroke="#111" stroke-width="1.1" stroke-linejoin="round" stroke-linecap="round" />
<path d="M449.3,766 L449.3,802.5 Q448.5,806.5 445.5,806 Q443.8,804.2 446,803" fill="none" stroke="#111" stroke-width="0.9" stroke-linejoin="round" stroke-linecap="round" />
<line x1="600" y1="544" x2="600" y2="722" stroke="#111" stroke-width="1.1" stroke-linecap="round" /></g>
<use href="#cornerhalf" transform="translate(1200,0) scale(-1,1)"/>
<!-- infill -->
<polygon points="913.1,904.1 945,922.4 945,933.8 913.1,915.1" fill="#7a7b7e" stroke="#111" stroke-width="1.0" stroke-linejoin="round" />
<polygon points="945,922.4 975.4,903 975.4,911.8 964,918.5 964,922 945,933.8" fill="#828386" stroke="#111" stroke-width="1.0" stroke-linejoin="round" />
<polygon points="913.1,904.1 942.8,884.3 975.4,903 945,922.4" fill="#8b8c8f" stroke="#111" stroke-width="1.0" stroke-linejoin="round" />
<polyline points="926.3,896 958.2,914.5" fill="none" stroke="#111" stroke-width="0.9" stroke-linejoin="round" stroke-linecap="round" />
<polyline points="931.5,892.8 963,911" fill="none" stroke="#111" stroke-width="0.9" stroke-linejoin="round" stroke-linecap="round" />
<polygon points="916.2,909.6 919.6,911.55 919.6,915.2 916.2,913.25" fill="#55565a" stroke="#111" stroke-width="0.6" stroke-linejoin="round" />
<polygon points="921.8,912.85 925.2,914.8 925.2,918.45 921.8,916.5" fill="#55565a" stroke="#111" stroke-width="0.6" stroke-linejoin="round" />
<polygon points="927.4,916.1 930.8,918.05 930.8,921.7 927.4,919.75" fill="#55565a" stroke="#111" stroke-width="0.6" stroke-linejoin="round" />
<polygon points="933,919.35 936.4,921.3 936.4,924.95 933,923" fill="#55565a" stroke="#111" stroke-width="0.6" stroke-linejoin="round" />
<polygon points="938.6,922.6 942,924.55 942,928.2 938.6,926.25" fill="#55565a" stroke="#111" stroke-width="0.6" stroke-linejoin="round" />
<line x1="918" y1="912.2" x2="895.05" y2="926.51" stroke="#1c1c1c" stroke-width="2.7" stroke-linecap="round" stroke-linecap="butt"/>
<line x1="918" y1="912.2" x2="895.05" y2="926.51" stroke="#97989b" stroke-width="0.8000000000000003" stroke-linecap="round" stroke-linecap="butt"/>
<line x1="923.6" y1="915.45" x2="900.65" y2="929.76" stroke="#1c1c1c" stroke-width="2.7" stroke-linecap="round" stroke-linecap="butt"/>
<line x1="923.6" y1="915.45" x2="900.65" y2="929.76" stroke="#97989b" stroke-width="0.8000000000000003" stroke-linecap="round" stroke-linecap="butt"/>
<line x1="929.2" y1="918.7" x2="906.25" y2="933.01" stroke="#1c1c1c" stroke-width="2.7" stroke-linecap="round" stroke-linecap="butt"/>
<line x1="929.2" y1="918.7" x2="906.25" y2="933.01" stroke="#97989b" stroke-width="0.8000000000000003" stroke-linecap="round" stroke-linecap="butt"/>
<line x1="934.8" y1="921.95" x2="911.85" y2="936.26" stroke="#1c1c1c" stroke-width="2.7" stroke-linecap="round" stroke-linecap="butt"/>
<line x1="934.8" y1="921.95" x2="911.85" y2="936.26" stroke="#97989b" stroke-width="0.8000000000000003" stroke-linecap="round" stroke-linecap="butt"/>
<line x1="940.4" y1="925.2" x2="917.45" y2="939.51" stroke="#1c1c1c" stroke-width="2.7" stroke-linecap="round" stroke-linecap="butt"/>
<line x1="940.4" y1="925.2" x2="917.45" y2="939.51" stroke="#97989b" stroke-width="0.8000000000000003" stroke-linecap="round" stroke-linecap="butt"/>
<polygon points="912,980 953.8,956.2 959.3,978.9 957.5,981 957.9,980.1 955.9,985.1 952,983.5 950,988.5 946.1,986.9 944.1,991.9 940.2,990.3 938.2,995.3 934.3,993.7 932.3,998.7 928.4,997.1 926.4,1002.1 922.5,1000.5 920.5,1005.5 912,1012" fill="#7d7e81" stroke="#111" stroke-width="1.0" stroke-linejoin="round" />
<polygon points="850,950 895.5,922.4 918.6,937.1 875,963" fill="#757575" stroke="#111" stroke-width="1.0" stroke-linejoin="round" />
<polygon points="820,931 864.7,904.1 895.5,922.4 850,950" fill="#7d7e81" stroke="#111" stroke-width="1.0" stroke-linejoin="round" />
<polygon points="875,962 918.6,936 953.8,956.2 912,981" fill="#7d7e81" stroke="#111" stroke-width="1.0" stroke-linejoin="round" />
<rect x="847.85" y="930.8" width="23.5" height="6" rx="3" ry="3" transform="rotate(-30.5 859.6 933.8)" fill="#fff" stroke="#111" stroke-width="0.8"/>
<rect x="863.6" y="917.4" width="11" height="4.2" rx="2.1" ry="2.1" transform="rotate(-30.5 869.1 919.5)" fill="#fff" stroke="#111" stroke-width="0.8"/>
<rect x="840.6" y="930.65" width="10" height="5.5" rx="2.75" ry="2.75" transform="rotate(-30.5 845.6 933.4)" fill="#8b8c8f" stroke="#111" stroke-width="0.9"/>
<rect x="843.45" y="932.1" width="5.5" height="2.2" rx="1.1" ry="1.1" transform="rotate(-40.5 846.2 933.2)" fill="#e6e6e6" stroke="#111" stroke-width="0.5"/>
<rect x="890.35" y="955" width="23.5" height="6" rx="3" ry="3" transform="rotate(-30.5 902.1 958)" fill="#fff" stroke="#111" stroke-width="0.8"/>
<rect x="921.4" y="951.1" width="12" height="4.2" rx="2.1" ry="2.1" transform="rotate(-30.5 927.4 953.2)" fill="#fff" stroke="#111" stroke-width="0.8"/>
<rect x="898.8" y="964.3" width="11" height="4.2" rx="2.1" ry="2.1" transform="rotate(-30.5 904.3 966.4)" fill="#fff" stroke="#111" stroke-width="0.8"/>
<g class="ns" transform="translate(-156.4,691.0) scale(0.886)">
<line x1="261" y1="792.4" x2="336" y2="749.65" stroke="#1c1c1c" stroke-width="3.3" stroke-linecap="round" stroke-linecap="butt"/>
<line x1="261" y1="792.4" x2="336" y2="749.65" stroke="#97989b" stroke-width="1.4" stroke-linecap="round" stroke-linecap="butt"/>
<line x1="268" y1="796.95" x2="343" y2="754.2" stroke="#1c1c1c" stroke-width="3.3" stroke-linecap="round" stroke-linecap="butt"/>
<line x1="268" y1="796.95" x2="343" y2="754.2" stroke="#97989b" stroke-width="1.4" stroke-linecap="round" stroke-linecap="butt"/>
<line x1="275" y1="801.5" x2="350" y2="758.75" stroke="#1c1c1c" stroke-width="3.3" stroke-linecap="round" stroke-linecap="butt"/>
<line x1="275" y1="801.5" x2="350" y2="758.75" stroke="#97989b" stroke-width="1.4" stroke-linecap="round" stroke-linecap="butt"/>
<line x1="282" y1="806.05" x2="357" y2="763.3" stroke="#1c1c1c" stroke-width="3.3" stroke-linecap="round" stroke-linecap="butt"/>
<line x1="282" y1="806.05" x2="357" y2="763.3" stroke="#97989b" stroke-width="1.4" stroke-linecap="round" stroke-linecap="butt"/>
<line x1="289" y1="810.6" x2="364" y2="767.85" stroke="#1c1c1c" stroke-width="3.3" stroke-linecap="round" stroke-linecap="butt"/>
<line x1="289" y1="810.6" x2="364" y2="767.85" stroke="#97989b" stroke-width="1.4" stroke-linecap="round" stroke-linecap="butt"/>
<polygon points="233,800.5 270.8,823.9 270.8,835.8 233,812.4" fill="#6c6d70" stroke="#111" stroke-width="1.0" stroke-linejoin="round" />
<polygon points="258.5,839.6 266.5,835 270.8,837.4 262.5,842.2" fill="#88898c" stroke="#111" stroke-width="0.8" stroke-linejoin="round" />
<polygon points="217.8,813.3 232.8,804.3 270.7,826.5 255.5,838.5" fill="#2e2e30" stroke="none" stroke-width="0" stroke-linejoin="round" />
<polygon points="217.3,811.3 232.5,802.3 239.1,805.9 223.9,814.9" fill="#88898c" stroke="#111" stroke-width="0.9" stroke-linejoin="round" />
<polygon points="217.3,811.3 223.9,814.9 223.9,822.6 217.3,819" fill="#3a3a3c" stroke="#111" stroke-width="0.9" stroke-linejoin="round" />
<polygon points="219.6,815.7 221.8,816.9 221.8,819.3 219.6,818.1" fill="#b5b6b9" stroke="none" stroke-width="0" stroke-linejoin="round" />
<polygon points="225.2,815.85 240.4,806.85 247,810.45 231.8,819.45" fill="#88898c" stroke="#111" stroke-width="0.9" stroke-linejoin="round" />
<polygon points="225.2,815.85 231.8,819.45 231.8,827.15 225.2,823.55" fill="#3a3a3c" stroke="#111" stroke-width="0.9" stroke-linejoin="round" />
<polygon points="227.5,820.25 229.7,821.45 229.7,823.85 227.5,822.65" fill="#b5b6b9" stroke="none" stroke-width="0" stroke-linejoin="round" />
<polygon points="233.1,820.4 248.3,811.4 254.9,815 239.7,824" fill="#88898c" stroke="#111" stroke-width="0.9" stroke-linejoin="round" />
<polygon points="233.1,820.4 239.7,824 239.7,831.7 233.1,828.1" fill="#3a3a3c" stroke="#111" stroke-width="0.9" stroke-linejoin="round" />
<polygon points="235.4,824.8 237.6,826 237.6,828.4 235.4,827.2" fill="#b5b6b9" stroke="none" stroke-width="0" stroke-linejoin="round" />
<polygon points="241,824.95 256.2,815.95 262.8,819.55 247.6,828.55" fill="#88898c" stroke="#111" stroke-width="0.9" stroke-linejoin="round" />
<polygon points="241,824.95 247.6,828.55 247.6,836.25 241,832.65" fill="#3a3a3c" stroke="#111" stroke-width="0.9" stroke-linejoin="round" />
<polygon points="243.3,829.35 245.5,830.55 245.5,832.95 243.3,831.75" fill="#b5b6b9" stroke="none" stroke-width="0" stroke-linejoin="round" />
<polygon points="248.9,829.5 264.1,820.5 270.7,824.1 255.5,833.1" fill="#88898c" stroke="#111" stroke-width="0.9" stroke-linejoin="round" />
<polygon points="248.9,829.5 255.5,833.1 255.5,840.8 248.9,837.2" fill="#3a3a3c" stroke="#111" stroke-width="0.9" stroke-linejoin="round" />
<polygon points="251.2,833.9 253.4,835.1 253.4,837.5 251.2,836.3" fill="#b5b6b9" stroke="none" stroke-width="0" stroke-linejoin="round" />
<polygon points="255.5,833.1 270.7,824.1 270.7,831.8 255.5,840.8" fill="#77787b" stroke="#111" stroke-width="0.9" stroke-linejoin="round" />
<polygon points="270.8,823.9 291.1,812.7 291.1,825.3 277,833 277,829.5 270.8,832.8" fill="#828386" stroke="#111" stroke-width="1.0" stroke-linejoin="round" />
<polygon points="233,800.5 251.9,789.3 291.1,812.7 270.8,823.9" fill="#8b8c8f" stroke="#111" stroke-width="1.0" stroke-linejoin="round" />
<polygon points="233,800.5 270.8,823.9 270.8,826.2 233,802.8" fill="#7a7b7e" stroke="#111" stroke-width="0.7" stroke-linejoin="round" />
<polygon points="288.75,738.7 282.75,760 284.3,762.6 286.5,762.2 292.5,757.6 294.8,757.8 296.5,754.4 301.5,753 303.2,750 306,749.5 309,749.8" fill="#7d7e81" stroke="#111" stroke-width="1.0" stroke-linejoin="round" />
<polygon points="390.75,796 466,752.5 466,792 444.2,798.6 442,804.2 437.45,802.45 435.25,808.05 430.7,806.3 428.5,811.9 423.95,810.15 421.75,815.75 417.2,814 415,819.6 410.45,817.85 408.25,823.45 403.7,821.7 401.5,827.3 396.75,824.5" fill="#7d7e81" stroke="#111" stroke-width="1.0" stroke-linejoin="round" />
<polygon points="326.25,763 395,723.5 425,739.5 354.75,781 354,778.75 327,763.75" fill="#7d7e81" stroke="#111" stroke-width="1.0" stroke-linejoin="round" />
<polygon points="288.75,738.7 352,702 394,719 324.75,758.5" fill="#7d7e81" stroke="#111" stroke-width="1.0" stroke-linejoin="round" />
<polygon points="324.75,758.5 394,719 395,723.5 326.25,763" fill="#6e6e6e" stroke="#111" stroke-width="0.8" stroke-linejoin="round" />
<polygon points="357,775.75 426,736.5 466,752.5 390.75,796" fill="#7d7e81" stroke="#111" stroke-width="1.0" stroke-linejoin="round" />
<polygon points="357,775.75 354.75,781 356.5,781.6 358.3,777.5" fill="#6e6e6e" stroke="#111" stroke-width="0.7" stroke-linejoin="round" />
<rect x="336" y="731.55" width="25" height="6.4" rx="3.2" ry="3.2" transform="rotate(-29.5 348.5 734.75)" fill="#a6a6a6" stroke="#111" stroke-width="1.0"/>
<rect x="340.1" y="731.9" width="19" height="3.4" rx="1.7" ry="1.7" transform="rotate(-29.5 349.6 733.6)" fill="#b4b4b4" stroke="#555" stroke-width="0.5"/>
<rect x="340" y="723.25" width="11" height="5" rx="2.5" ry="2.5" transform="rotate(-29.5 345.5 725.75)" fill="#8a8a8a" stroke="#111" stroke-width="1.0"/>
<rect x="312" y="739.9" width="11" height="5.4" rx="2.7" ry="2.7" transform="rotate(-29.5 317.5 742.6)" fill="#8a8a8a" stroke="#111" stroke-width="1.0"/>
<rect x="315.55" y="741.1" width="5.5" height="2.4" rx="1.2" ry="1.2" transform="rotate(-39.5 318.3 742.3)" fill="#e6e6e6" stroke="#111" stroke-width="0.5"/>
<rect x="382.75" y="759.95" width="26" height="6.6" rx="3.3" ry="3.3" transform="rotate(-29.5 395.75 763.25)" fill="#a6a6a6" stroke="#111" stroke-width="1.0"/>
<rect x="405.25" y="761.8" width="12.5" height="5" rx="2.5" ry="2.5" transform="rotate(-29.5 411.5 764.3)" fill="#9a9a9a" stroke="#111" stroke-width="1.0"/>
<rect x="379" y="777.7" width="12.5" height="5" rx="2.5" ry="2.5" transform="rotate(-29.5 385.25 780.2)" fill="#fff" stroke="#111" stroke-width="1.0"/>
<polygon points="336,696 1093.4,259.88 1121.22,280.47 1168.28,306.09 1185.1,315.58 1202.48,322.35 1206.55,325.73 1208.69,330.47 1208.58,367.72 452,807 452,768 449.5,763.5 446,760.5 432.6,752.6" fill="#9d9ea1" stroke="#111" stroke-width="1.2" stroke-linejoin="round" />
<path d="M336,696 Q331.2,697.2 331.2,702 L331.2,712.4 L334.6,714 L334.6,703" fill="#9d9ea1" stroke="#111" stroke-width="1.0" stroke-linejoin="round" stroke-linecap="round" />
<polygon points="336,696 349,706.2 368.6,717.8 368.6,723.5 352,714.5 334.6,705.5 334.6,699" fill="#9d9ea1" stroke="none" stroke-width="0" stroke-linejoin="round" />
<polygon points="411.5,741.5 432.6,752.6 446,760.5 449.5,765 449.5,773 432.6,761.5 411.5,748.5" fill="#9d9ea1" stroke="none" stroke-width="0" stroke-linejoin="round" />
<polygon points="446.5,764 452,768 452,807 446.5,806" fill="#9d9ea1" stroke="none" stroke-width="0" stroke-linejoin="round" />
<polygon points="368.6,717.8 1121.22,280.47 1168.28,306.09 411.5,741.5" fill="#a3a4a7" stroke="#111" stroke-width="1.0" stroke-linejoin="round" />
<line x1="369.5" y1="719.6" x2="410.8" y2="743.4" stroke="#111" stroke-width="0.8" stroke-linecap="round" />
<line x1="349" y1="706.2" x2="1104.49" y2="268.09" stroke="#111" stroke-width="1.0" stroke-linecap="round" />
<line x1="351.4" y1="708.2" x2="1106.54" y2="269.61" stroke="#111" stroke-width="2.4" stroke-linecap="round" />
<line x1="363.4" y1="714.2" x2="1116.78" y2="277.19" stroke="#111" stroke-width="2.4" stroke-linecap="round" />
<line x1="365.8" y1="716.2" x2="1118.83" y2="278.7" stroke="#111" stroke-width="1.0" stroke-linecap="round" />
<line x1="411.5" y1="741.5" x2="1168.28" y2="306.09" stroke="#111" stroke-width="2.4" stroke-linecap="round" />
<line x1="419" y1="745.25" x2="1174.26" y2="309.46" stroke="#111" stroke-width="1.1" stroke-linecap="round" />
<line x1="429.8" y1="751" x2="1182.87" y2="314.32" stroke="#111" stroke-width="1.7" stroke-linecap="round" />
<line x1="432.6" y1="752.6" x2="1185.1" y2="315.58" stroke="#111" stroke-width="1.2" stroke-linecap="round" />
<polyline points="336,696 349,706.2 350.6,709.8 353,712.5 356.2,709.8 363.4,714.2 364.6,717.4 368.6,717.8 411.5,741.5 412.5,745.5 419,745.25 429.8,751 432.6,752.6" fill="none" stroke="#111" stroke-width="1.0" stroke-linejoin="round" stroke-linecap="round" />
<polyline points="1093.4,259.88 1104.49,268.09 1116.78,277.19 1121.22,280.47" fill="none" stroke="#111" stroke-width="1.0" stroke-linejoin="round" stroke-linecap="round" />
<polyline points="1168.28,306.09 1185.1,315.58 1202.48,322.35" fill="none" stroke="#111" stroke-width="1.0" stroke-linejoin="round" stroke-linecap="round" />
<polyline points="338.5,700.5 338.5,707.5" fill="none" stroke="#111" stroke-width="1.1" stroke-linejoin="round" stroke-linecap="round" />
<polyline points="342.5,702.5 342.5,709.5" fill="none" stroke="#111" stroke-width="1.1" stroke-linejoin="round" stroke-linecap="round" />
<path d="M350.6,709.8 Q350,715 354.5,716.5" fill="none" stroke="#111" stroke-width="1.1" stroke-linejoin="round" stroke-linecap="round" />
<polyline points="357.5,711 357.5,717.5" fill="none" stroke="#111" stroke-width="1.1" stroke-linejoin="round" stroke-linecap="round" />
<polyline points="361,713 361,719.5" fill="none" stroke="#111" stroke-width="1.1" stroke-linejoin="round" stroke-linecap="round" />
<polyline points="375,721.5 375,728.5" fill="none" stroke="#111" stroke-width="1.2" stroke-linejoin="round" stroke-linecap="round" />
<polyline points="407,739.5 407,746.5" fill="none" stroke="#111" stroke-width="1.2" stroke-linejoin="round" stroke-linecap="round" />
<path d="M419.5,746 L419.5,752.5 M424,748.5 L424,754.5 M428,751 Q427,757 431,758.5" fill="none" stroke="#111" stroke-width="1.1" stroke-linejoin="round" stroke-linecap="round" />
<polyline points="439.5,759.5 439.5,768" fill="none" stroke="#111" stroke-width="1.1" stroke-linejoin="round" stroke-linecap="round" />
<polyline points="444,762 444,770" fill="none" stroke="#111" stroke-width="1.1" stroke-linejoin="round" stroke-linecap="round" />
<path d="M449.3,766 L449.3,802.5 Q448.5,806.5 445.5,806 Q443.8,804.2 446,803" fill="none" stroke="#111" stroke-width="0.9" stroke-linejoin="round" stroke-linecap="round" />
</g>
<path d="M472.8,1079.8 C472.8,1083.83 471.7,1096.67 472.8,1104 C473.9,1111.33 476.1,1116.47 479.4,1123.8 C482.7,1131.13 486.37,1141.4 492.6,1148 C498.83,1154.6 508.37,1158.63 516.8,1163.4 C525.23,1168.17 535.87,1171.83 543.2,1176.6 C550.53,1181.37 556.4,1185.77 560.8,1192 C565.2,1198.23 567.77,1205.57 569.6,1214 C571.43,1222.43 571.43,1237.83 571.8,1242.6 L585,1247 C584.82,1241.5 585.73,1223.17 583.9,1214 C582.07,1204.83 578.58,1199.33 574,1192 C569.42,1184.67 563,1175.87 556.4,1170 C549.8,1164.13 542.47,1161.2 534.4,1156.8 C526.33,1152.4 514.97,1149.1 508,1143.6 C501.03,1138.1 496.27,1130.4 492.6,1123.8 C488.93,1117.2 486.92,1110.97 486,1104 C485.08,1097.03 486.92,1085.67 487.1,1082 Z" fill="#fff" stroke="none"/>
<path d="M472.8,1079.8 C472.8,1083.83 471.7,1096.67 472.8,1104 C473.9,1111.33 476.1,1116.47 479.4,1123.8 C482.7,1131.13 486.37,1141.4 492.6,1148 C498.83,1154.6 508.37,1158.63 516.8,1163.4 C525.23,1168.17 535.87,1171.83 543.2,1176.6 C550.53,1181.37 556.4,1185.77 560.8,1192 C565.2,1198.23 567.77,1205.57 569.6,1214 C571.43,1222.43 571.43,1237.83 571.8,1242.6" fill="none" stroke="#111" stroke-width="1.6" stroke-dasharray="3.6 2.8"/>
<path d="M487.1,1082 C486.92,1085.67 485.08,1097.03 486,1104 C486.92,1110.97 488.93,1117.2 492.6,1123.8 C496.27,1130.4 501.03,1138.1 508,1143.6 C514.97,1149.1 526.33,1152.4 534.4,1156.8 C542.47,1161.2 549.8,1164.13 556.4,1170 C563,1175.87 569.42,1184.67 574,1192 C578.58,1199.33 582.07,1204.83 583.9,1214 C585.73,1223.17 584.82,1241.5 585,1247" fill="none" stroke="#111" stroke-width="1.6" stroke-dasharray="3.6 2.8"/>
<!-- kit -->
<polygon points="878.4,1188 924.8,1216.8 924.8,1233.4 878.4,1204" fill="#909194" stroke="#111" stroke-width="1.1" stroke-linejoin="round" />
<polygon points="924.8,1216.8 968.6,1187.4 968.6,1202.4 949,1214 949,1219.5 924.8,1233.4" fill="#a1a2a5" stroke="#111" stroke-width="1.1" stroke-linejoin="round" />
<polygon points="878.4,1188 921.6,1159.8 968.6,1187.4 924.8,1216.8" fill="#9b9c9f" stroke="#111" stroke-width="1.1" stroke-linejoin="round" />
<polyline points="896,1176 943,1204.5" fill="none" stroke="#111" stroke-width="0.9" stroke-linejoin="round" stroke-linecap="round" />
<polyline points="902.5,1172 949.5,1200.3" fill="none" stroke="#111" stroke-width="0.9" stroke-linejoin="round" stroke-linecap="round" />
<polygon points="881,1193.4 886.2,1196.6 886.2,1202.6 881,1199.4" fill="#5e5f62" stroke="#111" stroke-width="0.7" stroke-linejoin="round" />
<polygon points="890.9,1199.1 896.1,1202.3 896.1,1208.3 890.9,1205.1" fill="#5e5f62" stroke="#111" stroke-width="0.7" stroke-linejoin="round" />
<polygon points="900.8,1204.8 906,1208 906,1214 900.8,1210.8" fill="#5e5f62" stroke="#111" stroke-width="0.7" stroke-linejoin="round" />
<polygon points="910.7,1210.5 915.9,1213.7 915.9,1219.7 910.7,1216.5" fill="#5e5f62" stroke="#111" stroke-width="0.7" stroke-linejoin="round" />
<polygon points="920.6,1216.2 925.8,1219.4 925.8,1225.4 920.6,1222.2" fill="#5e5f62" stroke="#111" stroke-width="0.7" stroke-linejoin="round" />
<path d="M884,1198.6 L780,1257.4" fill="none" stroke="#222" stroke-width="4.7" stroke-linejoin="round" stroke-linecap="round" stroke-linecap="butt"/><path d="M884,1198.6 L780,1257.4" fill="none" stroke="#8d8e91" stroke-width="2.7" stroke-linejoin="round" stroke-linecap="round" stroke-linecap="butt"/>
<path d="M893.9,1204.3 L789.2,1263" fill="none" stroke="#222" stroke-width="4.7" stroke-linejoin="round" stroke-linecap="round" stroke-linecap="butt"/><path d="M893.9,1204.3 L789.2,1263" fill="none" stroke="#8d8e91" stroke-width="2.7" stroke-linejoin="round" stroke-linecap="round" stroke-linecap="butt"/>
<path d="M903.8,1210 L798.4,1268.6" fill="none" stroke="#222" stroke-width="4.7" stroke-linejoin="round" stroke-linecap="round" stroke-linecap="butt"/><path d="M903.8,1210 L798.4,1268.6" fill="none" stroke="#8d8e91" stroke-width="2.7" stroke-linejoin="round" stroke-linecap="round" stroke-linecap="butt"/>
<path d="M913.7,1215.7 L807.6,1274.2" fill="none" stroke="#222" stroke-width="4.7" stroke-linejoin="round" stroke-linecap="round" stroke-linecap="butt"/><path d="M913.7,1215.7 L807.6,1274.2" fill="none" stroke="#8d8e91" stroke-width="2.7" stroke-linejoin="round" stroke-linecap="round" stroke-linecap="butt"/>
<path d="M923.6,1221.4 L816.8,1279.8" fill="none" stroke="#222" stroke-width="4.7" stroke-linejoin="round" stroke-linecap="round" stroke-linecap="butt"/><path d="M923.6,1221.4 L816.8,1279.8" fill="none" stroke="#8d8e91" stroke-width="2.7" stroke-linejoin="round" stroke-linecap="round" stroke-linecap="butt"/>
<path d="M441.3,1384.8 C444.92,1382.45 453.88,1375.8 463,1370.7 C472.12,1365.6 485,1359.15 496,1354.2 C507,1349.25 518,1344.58 529,1341 C540,1337.42 551,1335.18 562,1332.7 C573,1330.22 584,1328.3 595,1326.1 C606,1323.9 617,1321.97 628,1319.5 C639,1317.03 650,1314.6 661,1311.3 C672,1308 683,1304.1 694,1299.7 C705,1295.3 720.12,1287.92 727,1284.9 C733.88,1281.88 733.92,1282.15 735.3,1281.6" fill="none" stroke="#222" stroke-width="4.7" stroke-linejoin="round" stroke-linecap="round" stroke-linecap="butt"/><path d="M441.3,1384.8 C444.92,1382.45 453.88,1375.8 463,1370.7 C472.12,1365.6 485,1359.15 496,1354.2 C507,1349.25 518,1344.58 529,1341 C540,1337.42 551,1335.18 562,1332.7 C573,1330.22 584,1328.3 595,1326.1 C606,1323.9 617,1321.97 628,1319.5 C639,1317.03 650,1314.6 661,1311.3 C672,1308 683,1304.1 694,1299.7 C705,1295.3 720.12,1287.92 727,1284.9 C733.88,1281.88 733.92,1282.15 735.3,1281.6" fill="none" stroke="#8d8e91" stroke-width="2.7" stroke-linejoin="round" stroke-linecap="round" stroke-linecap="butt"/>
<line x1="437.3" y1="1387.2" x2="441.7" y2="1384.6" stroke="#1a1a1a" stroke-width="1.9" stroke-linecap="round" />
<path d="M450.9,1390.4 C454.52,1388.07 463.48,1381.47 472.6,1376.4 C481.72,1371.33 494.6,1364.92 505.6,1360 C516.6,1355.08 527.6,1350.45 538.6,1346.9 C549.6,1343.35 560.6,1341.15 571.6,1338.7 C582.6,1336.25 593.6,1334.37 604.6,1332.2 C615.6,1330.03 626.6,1328.13 637.6,1325.7 C648.6,1323.27 659.6,1320.87 670.6,1317.6 C681.6,1314.33 692.6,1310.47 703.6,1306.1 C714.6,1301.73 729.72,1294.38 736.6,1291.4 C743.48,1288.42 743.52,1288.73 744.9,1288.2" fill="none" stroke="#222" stroke-width="4.7" stroke-linejoin="round" stroke-linecap="round" stroke-linecap="butt"/><path d="M450.9,1390.4 C454.52,1388.07 463.48,1381.47 472.6,1376.4 C481.72,1371.33 494.6,1364.92 505.6,1360 C516.6,1355.08 527.6,1350.45 538.6,1346.9 C549.6,1343.35 560.6,1341.15 571.6,1338.7 C582.6,1336.25 593.6,1334.37 604.6,1332.2 C615.6,1330.03 626.6,1328.13 637.6,1325.7 C648.6,1323.27 659.6,1320.87 670.6,1317.6 C681.6,1314.33 692.6,1310.47 703.6,1306.1 C714.6,1301.73 729.72,1294.38 736.6,1291.4 C743.48,1288.42 743.52,1288.73 744.9,1288.2" fill="none" stroke="#8d8e91" stroke-width="2.7" stroke-linejoin="round" stroke-linecap="round" stroke-linecap="butt"/>
<line x1="446.9" y1="1392.8" x2="451.3" y2="1390.2" stroke="#1a1a1a" stroke-width="1.9" stroke-linecap="round" />
<path d="M460.5,1396 C464.12,1393.68 473.08,1387.13 482.2,1382.1 C491.32,1377.07 504.2,1370.68 515.2,1365.8 C526.2,1360.92 537.2,1356.32 548.2,1352.8 C559.2,1349.28 570.2,1347.12 581.2,1344.7 C592.2,1342.28 603.2,1340.43 614.2,1338.3 C625.2,1336.17 636.2,1334.3 647.2,1331.9 C658.2,1329.5 669.2,1327.13 680.2,1323.9 C691.2,1320.67 702.2,1316.83 713.2,1312.5 C724.2,1308.17 739.32,1300.85 746.2,1297.9 C753.08,1294.95 753.12,1295.32 754.5,1294.8" fill="none" stroke="#222" stroke-width="4.7" stroke-linejoin="round" stroke-linecap="round" stroke-linecap="butt"/><path d="M460.5,1396 C464.12,1393.68 473.08,1387.13 482.2,1382.1 C491.32,1377.07 504.2,1370.68 515.2,1365.8 C526.2,1360.92 537.2,1356.32 548.2,1352.8 C559.2,1349.28 570.2,1347.12 581.2,1344.7 C592.2,1342.28 603.2,1340.43 614.2,1338.3 C625.2,1336.17 636.2,1334.3 647.2,1331.9 C658.2,1329.5 669.2,1327.13 680.2,1323.9 C691.2,1320.67 702.2,1316.83 713.2,1312.5 C724.2,1308.17 739.32,1300.85 746.2,1297.9 C753.08,1294.95 753.12,1295.32 754.5,1294.8" fill="none" stroke="#8d8e91" stroke-width="2.7" stroke-linejoin="round" stroke-linecap="round" stroke-linecap="butt"/>
<line x1="456.5" y1="1398.4" x2="460.9" y2="1395.8" stroke="#1a1a1a" stroke-width="1.9" stroke-linecap="round" />
<path d="M470.1,1401.6 C473.72,1399.3 482.68,1392.8 491.8,1387.8 C500.92,1382.8 513.8,1376.45 524.8,1371.6 C535.8,1366.75 546.8,1362.18 557.8,1358.7 C568.8,1355.22 579.8,1353.08 590.8,1350.7 C601.8,1348.32 612.8,1346.5 623.8,1344.4 C634.8,1342.3 645.8,1340.47 656.8,1338.1 C667.8,1335.73 678.8,1333.4 689.8,1330.2 C700.8,1327 711.8,1323.2 722.8,1318.9 C733.8,1314.6 748.92,1307.32 755.8,1304.4 C762.68,1301.48 762.72,1301.9 764.1,1301.4" fill="none" stroke="#222" stroke-width="4.7" stroke-linejoin="round" stroke-linecap="round" stroke-linecap="butt"/><path d="M470.1,1401.6 C473.72,1399.3 482.68,1392.8 491.8,1387.8 C500.92,1382.8 513.8,1376.45 524.8,1371.6 C535.8,1366.75 546.8,1362.18 557.8,1358.7 C568.8,1355.22 579.8,1353.08 590.8,1350.7 C601.8,1348.32 612.8,1346.5 623.8,1344.4 C634.8,1342.3 645.8,1340.47 656.8,1338.1 C667.8,1335.73 678.8,1333.4 689.8,1330.2 C700.8,1327 711.8,1323.2 722.8,1318.9 C733.8,1314.6 748.92,1307.32 755.8,1304.4 C762.68,1301.48 762.72,1301.9 764.1,1301.4" fill="none" stroke="#8d8e91" stroke-width="2.7" stroke-linejoin="round" stroke-linecap="round" stroke-linecap="butt"/>
<line x1="466.1" y1="1404" x2="470.5" y2="1401.4" stroke="#1a1a1a" stroke-width="1.9" stroke-linecap="round" />
<path d="M479.7,1407.2 C483.32,1404.92 492.28,1398.47 501.4,1393.5 C510.52,1388.53 523.4,1382.22 534.4,1377.4 C545.4,1372.58 556.4,1368.05 567.4,1364.6 C578.4,1361.15 589.4,1359.05 600.4,1356.7 C611.4,1354.35 622.4,1352.57 633.4,1350.5 C644.4,1348.43 655.4,1346.63 666.4,1344.3 C677.4,1341.97 688.4,1339.67 699.4,1336.5 C710.4,1333.33 721.4,1329.57 732.4,1325.3 C743.4,1321.03 758.52,1313.78 765.4,1310.9 C772.28,1308.02 772.32,1308.48 773.7,1308" fill="none" stroke="#222" stroke-width="4.7" stroke-linejoin="round" stroke-linecap="round" stroke-linecap="butt"/><path d="M479.7,1407.2 C483.32,1404.92 492.28,1398.47 501.4,1393.5 C510.52,1388.53 523.4,1382.22 534.4,1377.4 C545.4,1372.58 556.4,1368.05 567.4,1364.6 C578.4,1361.15 589.4,1359.05 600.4,1356.7 C611.4,1354.35 622.4,1352.57 633.4,1350.5 C644.4,1348.43 655.4,1346.63 666.4,1344.3 C677.4,1341.97 688.4,1339.67 699.4,1336.5 C710.4,1333.33 721.4,1329.57 732.4,1325.3 C743.4,1321.03 758.52,1313.78 765.4,1310.9 C772.28,1308.02 772.32,1308.48 773.7,1308" fill="none" stroke="#8d8e91" stroke-width="2.7" stroke-linejoin="round" stroke-linecap="round" stroke-linecap="butt"/>
<line x1="475.7" y1="1409.6" x2="480.1" y2="1407" stroke="#1a1a1a" stroke-width="1.9" stroke-linecap="round" />
<path d="M405,1473.8 L736,1283.8" fill="none" stroke="#222" stroke-width="4.7" stroke-linejoin="round" stroke-linecap="round" stroke-linecap="butt"/><path d="M405,1473.8 L736,1283.8" fill="none" stroke="#8d8e91" stroke-width="2.7" stroke-linejoin="round" stroke-linecap="round" stroke-linecap="butt"/>
<path d="M413.1,1480.6 L745.6,1290.3" fill="none" stroke="#222" stroke-width="4.7" stroke-linejoin="round" stroke-linecap="round" stroke-linecap="butt"/><path d="M413.1,1480.6 L745.6,1290.3" fill="none" stroke="#8d8e91" stroke-width="2.7" stroke-linejoin="round" stroke-linecap="round" stroke-linecap="butt"/>
<path d="M421.2,1487.4 L755.2,1296.8" fill="none" stroke="#222" stroke-width="4.7" stroke-linejoin="round" stroke-linecap="round" stroke-linecap="butt"/><path d="M421.2,1487.4 L755.2,1296.8" fill="none" stroke="#8d8e91" stroke-width="2.7" stroke-linejoin="round" stroke-linecap="round" stroke-linecap="butt"/>
<path d="M429.3,1494.2 L764.8,1303.3" fill="none" stroke="#222" stroke-width="4.7" stroke-linejoin="round" stroke-linecap="round" stroke-linecap="butt"/><path d="M429.3,1494.2 L764.8,1303.3" fill="none" stroke="#8d8e91" stroke-width="2.7" stroke-linejoin="round" stroke-linecap="round" stroke-linecap="butt"/>
<path d="M437.4,1501 L774.4,1309.8" fill="none" stroke="#222" stroke-width="4.7" stroke-linejoin="round" stroke-linecap="round" stroke-linecap="butt"/><path d="M437.4,1501 L774.4,1309.8" fill="none" stroke="#8d8e91" stroke-width="2.7" stroke-linejoin="round" stroke-linecap="round" stroke-linecap="butt"/>
<path d="M336.5,1516.8 L404.5,1478.24" fill="none" stroke="#222" stroke-width="4.7" stroke-linejoin="round" stroke-linecap="round" stroke-linecap="butt"/><path d="M336.5,1516.8 L404.5,1478.24" fill="none" stroke="#8d8e91" stroke-width="2.7" stroke-linejoin="round" stroke-linecap="round" stroke-linecap="butt"/>
<path d="M345.4,1521.9 L413.4,1483.34" fill="none" stroke="#222" stroke-width="4.7" stroke-linejoin="round" stroke-linecap="round" stroke-linecap="butt"/><path d="M345.4,1521.9 L413.4,1483.34" fill="none" stroke="#8d8e91" stroke-width="2.7" stroke-linejoin="round" stroke-linecap="round" stroke-linecap="butt"/>
<path d="M354.3,1527 L422.3,1488.44" fill="none" stroke="#222" stroke-width="4.7" stroke-linejoin="round" stroke-linecap="round" stroke-linecap="butt"/><path d="M354.3,1527 L422.3,1488.44" fill="none" stroke="#8d8e91" stroke-width="2.7" stroke-linejoin="round" stroke-linecap="round" stroke-linecap="butt"/>
<path d="M363.2,1532.1 L431.2,1493.54" fill="none" stroke="#222" stroke-width="4.7" stroke-linejoin="round" stroke-linecap="round" stroke-linecap="butt"/><path d="M363.2,1532.1 L431.2,1493.54" fill="none" stroke="#8d8e91" stroke-width="2.7" stroke-linejoin="round" stroke-linecap="round" stroke-linecap="butt"/>
<path d="M372.1,1537.2 L440.1,1498.64" fill="none" stroke="#222" stroke-width="4.7" stroke-linejoin="round" stroke-linecap="round" stroke-linecap="butt"/><path d="M372.1,1537.2 L440.1,1498.64" fill="none" stroke="#8d8e91" stroke-width="2.7" stroke-linejoin="round" stroke-linecap="round" stroke-linecap="butt"/>
<path d="M397.7,1462.4 C398.27,1464.67 398.83,1471.47 401.1,1476 C403.37,1480.53 407.05,1485.63 411.3,1489.6 C415.55,1493.57 422.63,1496.4 426.6,1499.8 C430.57,1503.2 433.68,1506.3 435.1,1510 C436.52,1513.7 435.1,1520 435.1,1522 L448.7,1518.5 C448.7,1516.52 450.12,1510.57 448.7,1506.6 C447.28,1502.63 443.88,1498.38 440.2,1494.7 C436.52,1491.02 430.85,1488.47 426.6,1484.5 C422.35,1480.53 417.13,1475.15 414.7,1470.9 C412.27,1466.65 412.45,1460.98 412,1459 Z" fill="#fff" stroke="#fff" stroke-width="1.5"/>
<path d="M397.7,1462.4 C398.27,1464.67 398.83,1471.47 401.1,1476 C403.37,1480.53 407.05,1485.63 411.3,1489.6 C415.55,1493.57 422.63,1496.4 426.6,1499.8 C430.57,1503.2 433.68,1506.3 435.1,1510 C436.52,1513.7 435.1,1520 435.1,1522" fill="none" stroke="#111" stroke-width="1.6" stroke-dasharray="3.6 2.8"/>
<path d="M412,1459 C412.45,1460.98 412.27,1466.65 414.7,1470.9 C417.13,1475.15 422.35,1480.53 426.6,1484.5 C430.85,1488.47 436.52,1491.02 440.2,1494.7 C443.88,1498.38 447.28,1502.63 448.7,1506.6 C450.12,1510.57 448.7,1516.52 448.7,1518.5" fill="none" stroke="#111" stroke-width="1.6" stroke-dasharray="3.6 2.8"/>
<g class="ns" transform="translate(-3.8,485.65) scale(1.3)"><polygon points="233,800.5 270.8,823.9 270.8,835.8 233,812.4" fill="#7c7d80" stroke="#111" stroke-width="1.0" stroke-linejoin="round" />
<polygon points="258.5,839.6 266.5,835 270.8,837.4 262.5,842.2" fill="#999a9d" stroke="#111" stroke-width="0.8" stroke-linejoin="round" />
<polygon points="217.8,813.3 232.8,804.3 270.7,826.5 255.5,838.5" fill="#2e2e30" stroke="none" stroke-width="0" stroke-linejoin="round" />
<polygon points="217.3,811.3 232.5,802.3 239.1,805.9 223.9,814.9" fill="#999a9d" stroke="#111" stroke-width="0.9" stroke-linejoin="round" />
<polygon points="217.3,811.3 223.9,814.9 223.9,822.6 217.3,819" fill="#3a3a3c" stroke="#111" stroke-width="0.9" stroke-linejoin="round" />
<polygon points="219.6,815.7 221.8,816.9 221.8,819.3 219.6,818.1" fill="#b5b6b9" stroke="none" stroke-width="0" stroke-linejoin="round" />
<polygon points="225.2,815.85 240.4,806.85 247,810.45 231.8,819.45" fill="#999a9d" stroke="#111" stroke-width="0.9" stroke-linejoin="round" />
<polygon points="225.2,815.85 231.8,819.45 231.8,827.15 225.2,823.55" fill="#3a3a3c" stroke="#111" stroke-width="0.9" stroke-linejoin="round" />
<polygon points="227.5,820.25 229.7,821.45 229.7,823.85 227.5,822.65" fill="#b5b6b9" stroke="none" stroke-width="0" stroke-linejoin="round" />
<polygon points="233.1,820.4 248.3,811.4 254.9,815 239.7,824" fill="#999a9d" stroke="#111" stroke-width="0.9" stroke-linejoin="round" />
<polygon points="233.1,820.4 239.7,824 239.7,831.7 233.1,828.1" fill="#3a3a3c" stroke="#111" stroke-width="0.9" stroke-linejoin="round" />
<polygon points="235.4,824.8 237.6,826 237.6,828.4 235.4,827.2" fill="#b5b6b9" stroke="none" stroke-width="0" stroke-linejoin="round" />
<polygon points="241,824.95 256.2,815.95 262.8,819.55 247.6,828.55" fill="#999a9d" stroke="#111" stroke-width="0.9" stroke-linejoin="round" />
<polygon points="241,824.95 247.6,828.55 247.6,836.25 241,832.65" fill="#3a3a3c" stroke="#111" stroke-width="0.9" stroke-linejoin="round" />
<polygon points="243.3,829.35 245.5,830.55 245.5,832.95 243.3,831.75" fill="#b5b6b9" stroke="none" stroke-width="0" stroke-linejoin="round" />
<polygon points="248.9,829.5 264.1,820.5 270.7,824.1 255.5,833.1" fill="#999a9d" stroke="#111" stroke-width="0.9" stroke-linejoin="round" />
<polygon points="248.9,829.5 255.5,833.1 255.5,840.8 248.9,837.2" fill="#3a3a3c" stroke="#111" stroke-width="0.9" stroke-linejoin="round" />
<polygon points="251.2,833.9 253.4,835.1 253.4,837.5 251.2,836.3" fill="#b5b6b9" stroke="none" stroke-width="0" stroke-linejoin="round" />
<polygon points="255.5,833.1 270.7,824.1 270.7,831.8 255.5,840.8" fill="#8a8b8e" stroke="#111" stroke-width="0.9" stroke-linejoin="round" />
<polygon points="270.8,823.9 291.1,812.7 291.1,825.3 277,833 277,829.5 270.8,832.8" fill="#a1a2a5" stroke="#111" stroke-width="1.0" stroke-linejoin="round" />
<polygon points="233,800.5 251.9,789.3 291.1,812.7 270.8,823.9" fill="#9b9c9f" stroke="#111" stroke-width="1.0" stroke-linejoin="round" />
<polygon points="233,800.5 270.8,823.9 270.8,826.2 233,802.8" fill="#8a8b8e" stroke="#111" stroke-width="0.7" stroke-linejoin="round" /></g>
<polygon points="728,1279 730,1273 735.2,1267.7 772.5,1245.8 776,1244.8 783.9,1246.9 828.1,1273.5 830.7,1280 830.7,1287.2 776.5,1319.5 773.5,1318.5 772.2,1312 728,1286" fill="#4a4a4a" stroke="#111" stroke-width="1.2" stroke-linejoin="round" />
<polygon points="735.47,1272.97 743.17,1276.81 759.26,1266.23 751.57,1262.38" fill="#98999c" stroke="#111" stroke-width="0.6" stroke-linejoin="round" />
<ellipse cx="747.15" cy="1269.74" rx="2.2" ry="1.7" fill="#98999c" stroke="#111" stroke-width="0.8"/>
<polygon points="757.64,1263.4 761,1265.09 764.92,1262.51 761.55,1260.83" fill="#8e8f92" stroke="#111" stroke-width="0.5" stroke-linejoin="round" />
<polygon points="753.35,1261.77 756.48,1263.33 761.26,1260.18 758.14,1258.62" fill="#0c0c0c" stroke="none" stroke-width="0" stroke-linejoin="round" />
<polygon points="758.96,1257.52 766.66,1261.37 781.01,1251.93 773.32,1248.08" fill="#909194" stroke="#111" stroke-width="0.6" stroke-linejoin="round" />
<line x1="765.24" y1="1255.62" x2="775.17" y2="1253.54" stroke="#111" stroke-width="0.9" stroke-linecap="round" />
<polygon points="745.09,1277.78 752.79,1281.62 768.88,1271.04 761.19,1267.19" fill="#98999c" stroke="#111" stroke-width="0.6" stroke-linejoin="round" />
<ellipse cx="756.77" cy="1274.55" rx="2.2" ry="1.7" fill="#98999c" stroke="#111" stroke-width="0.8"/>
<polygon points="767.26,1268.21 770.62,1269.9 774.54,1267.32 771.17,1265.64" fill="#8e8f92" stroke="#111" stroke-width="0.5" stroke-linejoin="round" />
<polygon points="762.97,1266.58 766.1,1268.14 770.88,1264.99 767.76,1263.43" fill="#0c0c0c" stroke="none" stroke-width="0" stroke-linejoin="round" />
<polygon points="768.58,1262.33 776.28,1266.18 790.63,1256.74 782.94,1252.89" fill="#909194" stroke="#111" stroke-width="0.6" stroke-linejoin="round" />
<line x1="774.86" y1="1260.43" x2="784.79" y2="1258.35" stroke="#111" stroke-width="0.9" stroke-linecap="round" />
<polygon points="754.71,1282.59 762.41,1286.43 778.5,1275.85 770.81,1272" fill="#98999c" stroke="#111" stroke-width="0.6" stroke-linejoin="round" />
<ellipse cx="766.39" cy="1279.36" rx="2.2" ry="1.7" fill="#98999c" stroke="#111" stroke-width="0.8"/>
<polygon points="776.88,1273.02 780.24,1274.71 784.16,1272.13 780.79,1270.45" fill="#8e8f92" stroke="#111" stroke-width="0.5" stroke-linejoin="round" />
<polygon points="772.59,1271.39 775.72,1272.95 780.5,1269.8 777.38,1268.24" fill="#0c0c0c" stroke="none" stroke-width="0" stroke-linejoin="round" />
<polygon points="778.2,1267.14 785.9,1270.99 800.25,1261.55 792.56,1257.7" fill="#909194" stroke="#111" stroke-width="0.6" stroke-linejoin="round" />
<line x1="784.48" y1="1265.24" x2="794.41" y2="1263.16" stroke="#111" stroke-width="0.9" stroke-linecap="round" />
<polygon points="764.33,1287.4 772.03,1291.24 788.12,1280.66 780.43,1276.81" fill="#98999c" stroke="#111" stroke-width="0.6" stroke-linejoin="round" />
<ellipse cx="776.01" cy="1284.17" rx="2.2" ry="1.7" fill="#98999c" stroke="#111" stroke-width="0.8"/>
<polygon points="786.5,1277.83 789.86,1279.52 793.78,1276.94 790.41,1275.26" fill="#8e8f92" stroke="#111" stroke-width="0.5" stroke-linejoin="round" />
<polygon points="782.21,1276.2 785.34,1277.76 790.12,1274.61 787,1273.05" fill="#0c0c0c" stroke="none" stroke-width="0" stroke-linejoin="round" />
<polygon points="787.82,1271.95 795.52,1275.8 809.87,1266.36 802.18,1262.51" fill="#909194" stroke="#111" stroke-width="0.6" stroke-linejoin="round" />
<line x1="794.1" y1="1270.05" x2="804.03" y2="1267.97" stroke="#111" stroke-width="0.9" stroke-linecap="round" />
<polygon points="773.95,1292.21 781.65,1296.05 797.74,1285.47 790.05,1281.62" fill="#98999c" stroke="#111" stroke-width="0.6" stroke-linejoin="round" />
<ellipse cx="785.63" cy="1288.98" rx="2.2" ry="1.7" fill="#98999c" stroke="#111" stroke-width="0.8"/>
<polygon points="796.12,1282.64 799.48,1284.33 803.4,1281.75 800.03,1280.07" fill="#8e8f92" stroke="#111" stroke-width="0.5" stroke-linejoin="round" />
<polygon points="791.83,1281.01 794.96,1282.57 799.74,1279.42 796.62,1277.86" fill="#0c0c0c" stroke="none" stroke-width="0" stroke-linejoin="round" />
<polygon points="797.44,1276.76 805.14,1280.61 819.49,1271.17 811.8,1267.32" fill="#909194" stroke="#111" stroke-width="0.6" stroke-linejoin="round" />
<line x1="803.72" y1="1274.86" x2="813.65" y2="1272.78" stroke="#111" stroke-width="0.9" stroke-linecap="round" />
<polygon points="731.9,1274.2 780,1298.25 776.3,1308.5 728,1281" fill="#9a9a9a" stroke="#111" stroke-width="1.0" stroke-linejoin="round" />
<path d="M780,1298.25 L828.1,1273.5 Q830.7,1276 830.7,1287.2 L776.5,1319.5 Q774.5,1308 780,1298.25 Z" fill="#9a9a9a" stroke="#111" stroke-width="1.0" stroke-linejoin="round" stroke-linecap="round" />
<g transform="translate(772.4 1337.6) rotate(-30) scale(1.0)">
<rect x="2" y="-3.2" width="15.6" height="6.4" rx="1.6" fill="#4a4a4c" stroke="#111" stroke-width="1.3"/>
<line x1="6.2" y1="-2.6" x2="6.8" y2="2.6" stroke="#77787b" stroke-width="0.7"/>
<line x1="8.5" y1="-2.6" x2="9.1" y2="2.6" stroke="#77787b" stroke-width="0.7"/>
<line x1="10.8" y1="-2.6" x2="11.4" y2="2.6" stroke="#77787b" stroke-width="0.7"/>
<line x1="13.1" y1="-2.6" x2="13.7" y2="2.6" stroke="#77787b" stroke-width="0.7"/>
<line x1="15.4" y1="-2.6" x2="16" y2="2.6" stroke="#77787b" stroke-width="0.7"/>
<ellipse cx="1.6" cy="0" rx="4.6" ry="6.7" fill="#7a7b7e" stroke="#111" stroke-width="1.5"/>
<ellipse cx="0" cy="0" rx="4.6" ry="6.6" fill="#98999c" stroke="#111" stroke-width="1.5"/>
</g>
<line x1="769.8" y1="1336.4" x2="774.6" y2="1339.2" stroke="#111" stroke-width="1.3" stroke-linecap="round" />
<line x1="771.2" y1="1340.2" x2="773.4" y2="1335" stroke="#111" stroke-width="1.3" stroke-linecap="round" />
<!-- texts -->
<text x="28.2" y="35.5" font-size="24.6" textLength="79.99" lengthAdjust="spacingAndGlyphs">LN INV</text>
<text x="28.2" y="65.5" font-size="24.6" textLength="250.99" lengthAdjust="spacingAndGlyphs">SUSPENSION KIT WT</text>
<text x="398.2" y="35.5" font-size="24.6" textLength="79.97" lengthAdjust="spacingAndGlyphs">LN INV</text>
<text x="398.2" y="65.5" font-size="24.6" textLength="230.99" lengthAdjust="spacingAndGlyphs">SUSPENSION WIRE</text>
<text x="698.2" y="35.5" font-size="24.6" textLength="79.97" lengthAdjust="spacingAndGlyphs">LN INV</text>
<text x="698.2" y="65.5" font-size="24.6" textLength="246.5" lengthAdjust="spacingAndGlyphs">INLINE CONNECTOR</text>
<text x="550.2" y="495.8" font-size="24.6" textLength="79.97" lengthAdjust="spacingAndGlyphs">LN INV</text>
<text x="551.2" y="525.3" font-size="24.6" textLength="315.99" lengthAdjust="spacingAndGlyphs">CORNER CONNECTOR WT</text>
<text x="206.2" y="1079.4" font-size="21.6" textLength="69.97" lengthAdjust="spacingAndGlyphs">LN INV</text>
<text x="206.2" y="1105.0" font-size="21.6" textLength="147.99" lengthAdjust="spacingAndGlyphs">INFILL 600 WT</text>
<text x="206.2" y="1131.0" font-size="21.6" textLength="157.99" lengthAdjust="spacingAndGlyphs">INFILL 1200 WT</text>
<text x="206.2" y="1156.7" font-size="21.6" textLength="157.99" lengthAdjust="spacingAndGlyphs">INFILL 1500 WT</text>
<text x="536.7" y="1486.5" font-size="24.6" textLength="80.5" lengthAdjust="spacingAndGlyphs">LN INV</text>
<text x="537.95" y="1516.1" font-size="24.6" textLength="320.5" lengthAdjust="spacingAndGlyphs">1200 THROUGHWIRING KIT</text>
<text x="537.95" y="1545.4" font-size="24.6" textLength="320.5" lengthAdjust="spacingAndGlyphs">1500 THROUGHWIRING KIT</text>
</svg>
</body></html>
